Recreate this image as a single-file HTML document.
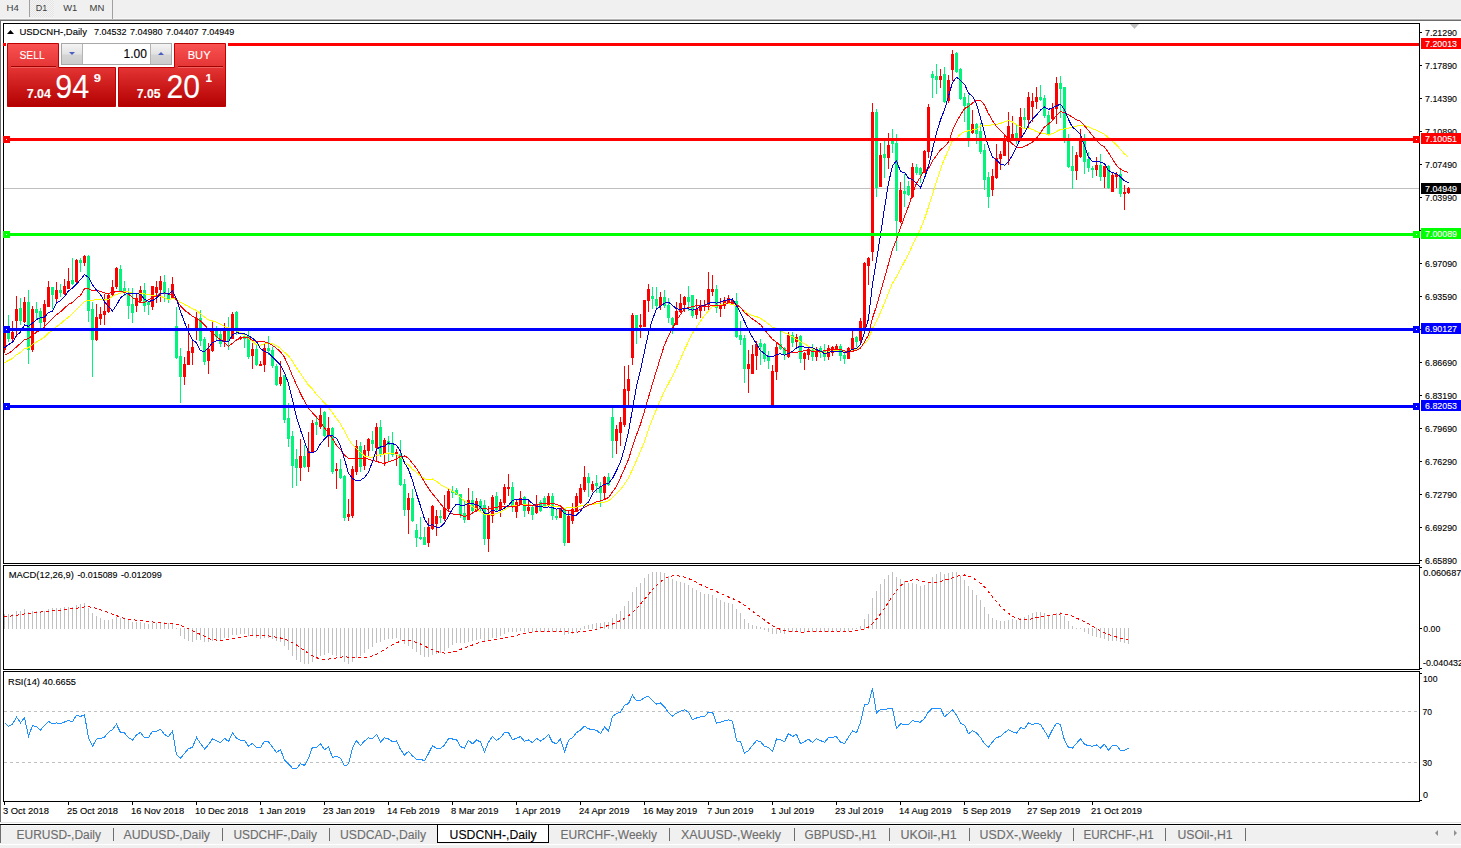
<!DOCTYPE html>
<html><head><meta charset="utf-8"><style>
html,body{margin:0;padding:0;background:#fff;width:1461px;height:848px;overflow:hidden}
svg{position:absolute;left:0;top:0;font-family:"Liberation Sans",sans-serif}
rect{shape-rendering:crispEdges}
text{stroke-width:0.12px}
</style></head><body>
<svg width="1461" height="848" viewBox="0 0 1461 848">
<rect x="0" y="0" width="1461" height="19" fill="#f0f0f0"/>
<rect x="0" y="18" width="1461" height="1" fill="#f7f7f7"/>
<rect x="0" y="19" width="1461" height="1" fill="#b4b4b4"/>
<rect x="0" y="20" width="1461" height="1" fill="#6e6e6e"/>
<defs><pattern id="chk" width="2" height="2" patternUnits="userSpaceOnUse"><rect width="2" height="2" fill="#f4f4f4"/><rect width="1" height="1" fill="#e4e4e4"/><rect x="1" y="1" width="1" height="1" fill="#e4e4e4"/></pattern></defs>
<rect x="30" y="0" width="24" height="17" fill="url(#chk)"/>
<rect x="29" y="0" width="1" height="17" fill="#a0a0a0"/>
<rect x="112" y="0" width="1" height="19" fill="#a0a0a0"/>
<text x="6.5" y="11" font-size="9.8" fill="#3c3c3c" textLength="12.3" lengthAdjust="spacingAndGlyphs">H4</text>
<text x="35.7" y="11" font-size="9.8" fill="#3c3c3c" textLength="11.5" lengthAdjust="spacingAndGlyphs">D1</text>
<text x="63.2" y="11" font-size="9.8" fill="#3c3c3c" textLength="14" lengthAdjust="spacingAndGlyphs">W1</text>
<text x="89.5" y="11" font-size="9.8" fill="#3c3c3c" textLength="14.8" lengthAdjust="spacingAndGlyphs">MN</text>
<rect x="0" y="21" width="1" height="801" fill="#6e6e6e"/>
<rect x="3" y="23" width="1417" height="1" fill="#000"/>
<rect x="3" y="563" width="1417" height="1" fill="#000"/>
<rect x="3" y="23" width="1" height="541" fill="#000"/>
<rect x="1419" y="23" width="1" height="541" fill="#000"/>
<rect x="3" y="565" width="1417" height="1" fill="#000"/>
<rect x="3" y="669" width="1417" height="1" fill="#000"/>
<rect x="3" y="565" width="1" height="105" fill="#000"/>
<rect x="1419" y="565" width="1" height="105" fill="#000"/>
<rect x="3" y="671" width="1417" height="1" fill="#000"/>
<rect x="3" y="801" width="1417" height="1" fill="#000"/>
<rect x="3" y="671" width="1" height="131" fill="#000"/>
<rect x="1419" y="671" width="1" height="131" fill="#000"/>
<rect x="1420" y="32" width="2" height="1" fill="#000"/>
<text x="1425" y="36" font-size="9.6" fill="#000" stroke="#000" textLength="32" lengthAdjust="spacingAndGlyphs">7.21290</text>
<rect x="1420" y="65" width="2" height="1" fill="#000"/>
<text x="1425" y="69" font-size="9.6" fill="#000" stroke="#000" textLength="32" lengthAdjust="spacingAndGlyphs">7.17890</text>
<rect x="1420" y="98" width="2" height="1" fill="#000"/>
<text x="1425" y="102" font-size="9.6" fill="#000" stroke="#000" textLength="32" lengthAdjust="spacingAndGlyphs">7.14390</text>
<rect x="1420" y="131" width="2" height="1" fill="#000"/>
<text x="1425" y="135" font-size="9.6" fill="#000" stroke="#000" textLength="32" lengthAdjust="spacingAndGlyphs">7.10890</text>
<rect x="1420" y="164" width="2" height="1" fill="#000"/>
<text x="1425" y="168" font-size="9.6" fill="#000" stroke="#000" textLength="32" lengthAdjust="spacingAndGlyphs">7.07490</text>
<rect x="1420" y="197" width="2" height="1" fill="#000"/>
<text x="1425" y="201" font-size="9.6" fill="#000" stroke="#000" textLength="32" lengthAdjust="spacingAndGlyphs">7.03990</text>
<rect x="1420" y="230" width="2" height="1" fill="#000"/>
<text x="1425" y="234" font-size="9.6" fill="#000" stroke="#000" textLength="32" lengthAdjust="spacingAndGlyphs">7.00490</text>
<rect x="1420" y="263" width="2" height="1" fill="#000"/>
<text x="1425" y="267" font-size="9.6" fill="#000" stroke="#000" textLength="32" lengthAdjust="spacingAndGlyphs">6.97090</text>
<rect x="1420" y="296" width="2" height="1" fill="#000"/>
<text x="1425" y="300" font-size="9.6" fill="#000" stroke="#000" textLength="32" lengthAdjust="spacingAndGlyphs">6.93590</text>
<rect x="1420" y="329" width="2" height="1" fill="#000"/>
<text x="1425" y="333" font-size="9.6" fill="#000" stroke="#000" textLength="32" lengthAdjust="spacingAndGlyphs">6.90090</text>
<rect x="1420" y="362" width="2" height="1" fill="#000"/>
<text x="1425" y="366" font-size="9.6" fill="#000" stroke="#000" textLength="32" lengthAdjust="spacingAndGlyphs">6.86690</text>
<rect x="1420" y="395" width="2" height="1" fill="#000"/>
<text x="1425" y="399" font-size="9.6" fill="#000" stroke="#000" textLength="32" lengthAdjust="spacingAndGlyphs">6.83190</text>
<rect x="1420" y="428" width="2" height="1" fill="#000"/>
<text x="1425" y="432" font-size="9.6" fill="#000" stroke="#000" textLength="32" lengthAdjust="spacingAndGlyphs">6.79690</text>
<rect x="1420" y="461" width="2" height="1" fill="#000"/>
<text x="1425" y="465" font-size="9.6" fill="#000" stroke="#000" textLength="32" lengthAdjust="spacingAndGlyphs">6.76290</text>
<rect x="1420" y="494" width="2" height="1" fill="#000"/>
<text x="1425" y="498" font-size="9.6" fill="#000" stroke="#000" textLength="32" lengthAdjust="spacingAndGlyphs">6.72790</text>
<rect x="1420" y="527" width="2" height="1" fill="#000"/>
<text x="1425" y="531" font-size="9.6" fill="#000" stroke="#000" textLength="32" lengthAdjust="spacingAndGlyphs">6.69290</text>
<rect x="1420" y="560" width="2" height="1" fill="#000"/>
<text x="1425" y="564" font-size="9.6" fill="#000" stroke="#000" textLength="32" lengthAdjust="spacingAndGlyphs">6.65890</text>
<clipPath id="cm"><rect x="4" y="24" width="1415" height="539"/></clipPath>
<clipPath id="cmacd"><rect x="4" y="566" width="1415" height="103"/></clipPath>
<clipPath id="crsi"><rect x="4" y="672" width="1415" height="129"/></clipPath>
<g clip-path="url(#cm)">
<rect x="4" y="188" width="1415" height="1" fill="#c0c0c0"/>
<rect x="4" y="328" width="1" height="25" fill="#ff0000"/>
<rect x="3" y="331" width="3" height="19" fill="#ff0000"/>
<rect x="8" y="315" width="1" height="27" fill="#00f57a"/>
<rect x="7" y="332" width="3" height="7" fill="#00f57a"/>
<rect x="12" y="321" width="1" height="22" fill="#ff0000"/>
<rect x="11" y="332" width="3" height="7" fill="#ff0000"/>
<rect x="16" y="296" width="1" height="41" fill="#ff0000"/>
<rect x="15" y="309" width="3" height="12" fill="#ff0000"/>
<rect x="20" y="298" width="1" height="27" fill="#00f57a"/>
<rect x="19" y="308" width="3" height="13" fill="#00f57a"/>
<rect x="24" y="297" width="1" height="26" fill="#ff0000"/>
<rect x="23" y="302" width="3" height="20" fill="#ff0000"/>
<rect x="28" y="290" width="1" height="74" fill="#00f57a"/>
<rect x="27" y="302" width="3" height="48" fill="#00f57a"/>
<rect x="32" y="306" width="1" height="46" fill="#ff0000"/>
<rect x="31" y="309" width="3" height="41" fill="#ff0000"/>
<rect x="36" y="302" width="1" height="18" fill="#00f57a"/>
<rect x="35" y="309" width="3" height="4" fill="#00f57a"/>
<rect x="40" y="308" width="1" height="20" fill="#00f57a"/>
<rect x="39" y="311" width="3" height="12" fill="#00f57a"/>
<rect x="44" y="300" width="1" height="28" fill="#ff0000"/>
<rect x="43" y="304" width="3" height="18" fill="#ff0000"/>
<rect x="48" y="281" width="1" height="26" fill="#ff0000"/>
<rect x="47" y="287" width="3" height="20" fill="#ff0000"/>
<rect x="52" y="287" width="1" height="22" fill="#00f57a"/>
<rect x="51" y="287" width="3" height="8" fill="#00f57a"/>
<rect x="56" y="282" width="1" height="20" fill="#ff0000"/>
<rect x="55" y="290" width="3" height="9" fill="#ff0000"/>
<rect x="60" y="284" width="1" height="13" fill="#00f57a"/>
<rect x="59" y="290" width="3" height="3" fill="#00f57a"/>
<rect x="64" y="279" width="1" height="16" fill="#ff0000"/>
<rect x="63" y="286" width="3" height="8" fill="#ff0000"/>
<rect x="68" y="268" width="1" height="21" fill="#ff0000"/>
<rect x="67" y="281" width="3" height="8" fill="#ff0000"/>
<rect x="72" y="258" width="1" height="27" fill="#00f57a"/>
<rect x="71" y="280" width="3" height="4" fill="#00f57a"/>
<rect x="76" y="259" width="1" height="25" fill="#ff0000"/>
<rect x="75" y="260" width="3" height="22" fill="#ff0000"/>
<rect x="80" y="258" width="1" height="14" fill="#00f57a"/>
<rect x="79" y="260" width="3" height="3" fill="#00f57a"/>
<rect x="84" y="255" width="1" height="11" fill="#ff0000"/>
<rect x="83" y="256" width="3" height="7" fill="#ff0000"/>
<rect x="88" y="255" width="1" height="67" fill="#00f57a"/>
<rect x="87" y="256" width="3" height="55" fill="#00f57a"/>
<rect x="92" y="302" width="1" height="75" fill="#00f57a"/>
<rect x="91" y="309" width="3" height="31" fill="#00f57a"/>
<rect x="96" y="304" width="1" height="37" fill="#ff0000"/>
<rect x="95" y="317" width="3" height="23" fill="#ff0000"/>
<rect x="100" y="307" width="1" height="18" fill="#ff0000"/>
<rect x="99" y="314" width="3" height="5" fill="#ff0000"/>
<rect x="104" y="294" width="1" height="31" fill="#ff0000"/>
<rect x="103" y="311" width="3" height="4" fill="#ff0000"/>
<rect x="108" y="294" width="1" height="19" fill="#ff0000"/>
<rect x="107" y="295" width="3" height="17" fill="#ff0000"/>
<rect x="112" y="280" width="1" height="17" fill="#ff0000"/>
<rect x="111" y="287" width="3" height="8" fill="#ff0000"/>
<rect x="116" y="267" width="1" height="22" fill="#ff0000"/>
<rect x="115" y="268" width="3" height="19" fill="#ff0000"/>
<rect x="120" y="265" width="1" height="27" fill="#00f57a"/>
<rect x="119" y="269" width="3" height="23" fill="#00f57a"/>
<rect x="124" y="281" width="1" height="15" fill="#00f57a"/>
<rect x="123" y="288" width="3" height="5" fill="#00f57a"/>
<rect x="128" y="288" width="1" height="31" fill="#00f57a"/>
<rect x="127" y="293" width="3" height="13" fill="#00f57a"/>
<rect x="132" y="288" width="1" height="35" fill="#00f57a"/>
<rect x="131" y="304" width="3" height="9" fill="#00f57a"/>
<rect x="136" y="294" width="1" height="18" fill="#ff0000"/>
<rect x="135" y="298" width="3" height="8" fill="#ff0000"/>
<rect x="140" y="286" width="1" height="17" fill="#ff0000"/>
<rect x="139" y="290" width="3" height="11" fill="#ff0000"/>
<rect x="144" y="283" width="1" height="29" fill="#00f57a"/>
<rect x="143" y="290" width="3" height="16" fill="#00f57a"/>
<rect x="148" y="301" width="1" height="14" fill="#00f57a"/>
<rect x="147" y="302" width="3" height="3" fill="#00f57a"/>
<rect x="152" y="286" width="1" height="24" fill="#ff0000"/>
<rect x="151" y="286" width="3" height="21" fill="#ff0000"/>
<rect x="156" y="281" width="1" height="22" fill="#ff0000"/>
<rect x="155" y="287" width="3" height="6" fill="#ff0000"/>
<rect x="160" y="276" width="1" height="26" fill="#ff0000"/>
<rect x="159" y="281" width="3" height="9" fill="#ff0000"/>
<rect x="164" y="275" width="1" height="27" fill="#00f57a"/>
<rect x="163" y="282" width="3" height="12" fill="#00f57a"/>
<rect x="168" y="288" width="1" height="15" fill="#00f57a"/>
<rect x="167" y="294" width="3" height="5" fill="#00f57a"/>
<rect x="172" y="277" width="1" height="22" fill="#ff0000"/>
<rect x="171" y="284" width="3" height="14" fill="#ff0000"/>
<rect x="176" y="307" width="1" height="52" fill="#00f57a"/>
<rect x="175" y="326" width="3" height="32" fill="#00f57a"/>
<rect x="180" y="348" width="1" height="55" fill="#00f57a"/>
<rect x="179" y="356" width="3" height="21" fill="#00f57a"/>
<rect x="184" y="357" width="1" height="28" fill="#ff0000"/>
<rect x="183" y="364" width="3" height="13" fill="#ff0000"/>
<rect x="188" y="324" width="1" height="41" fill="#ff0000"/>
<rect x="187" y="351" width="3" height="14" fill="#ff0000"/>
<rect x="192" y="340" width="1" height="25" fill="#ff0000"/>
<rect x="191" y="347" width="3" height="6" fill="#ff0000"/>
<rect x="196" y="312" width="1" height="28" fill="#ff0000"/>
<rect x="195" y="318" width="3" height="13" fill="#ff0000"/>
<rect x="200" y="310" width="1" height="36" fill="#00f57a"/>
<rect x="199" y="318" width="3" height="23" fill="#00f57a"/>
<rect x="204" y="337" width="1" height="28" fill="#00f57a"/>
<rect x="203" y="339" width="3" height="23" fill="#00f57a"/>
<rect x="208" y="343" width="1" height="31" fill="#ff0000"/>
<rect x="207" y="349" width="3" height="12" fill="#ff0000"/>
<rect x="212" y="321" width="1" height="31" fill="#ff0000"/>
<rect x="211" y="330" width="3" height="21" fill="#ff0000"/>
<rect x="216" y="326" width="1" height="14" fill="#00f57a"/>
<rect x="215" y="330" width="3" height="7" fill="#00f57a"/>
<rect x="220" y="331" width="1" height="16" fill="#00f57a"/>
<rect x="219" y="334" width="3" height="10" fill="#00f57a"/>
<rect x="224" y="323" width="1" height="24" fill="#ff0000"/>
<rect x="223" y="330" width="3" height="11" fill="#ff0000"/>
<rect x="228" y="317" width="1" height="33" fill="#00f57a"/>
<rect x="227" y="329" width="3" height="12" fill="#00f57a"/>
<rect x="232" y="312" width="1" height="27" fill="#ff0000"/>
<rect x="231" y="314" width="3" height="25" fill="#ff0000"/>
<rect x="236" y="311" width="1" height="24" fill="#00f57a"/>
<rect x="235" y="312" width="3" height="19" fill="#00f57a"/>
<rect x="240" y="336" width="1" height="4" fill="#ff0000"/>
<rect x="239" y="337" width="3" height="2" fill="#ff0000"/>
<rect x="244" y="333" width="1" height="15" fill="#00f57a"/>
<rect x="243" y="336" width="3" height="3" fill="#00f57a"/>
<rect x="248" y="331" width="1" height="28" fill="#00f57a"/>
<rect x="247" y="336" width="3" height="21" fill="#00f57a"/>
<rect x="252" y="343" width="1" height="26" fill="#ff0000"/>
<rect x="251" y="349" width="3" height="7" fill="#ff0000"/>
<rect x="256" y="344" width="1" height="22" fill="#00f57a"/>
<rect x="255" y="349" width="3" height="16" fill="#00f57a"/>
<rect x="260" y="361" width="1" height="5" fill="#ff0000"/>
<rect x="259" y="364" width="3" height="2" fill="#ff0000"/>
<rect x="264" y="344" width="1" height="28" fill="#ff0000"/>
<rect x="263" y="348" width="3" height="17" fill="#ff0000"/>
<rect x="268" y="336" width="1" height="19" fill="#00f57a"/>
<rect x="267" y="348" width="3" height="3" fill="#00f57a"/>
<rect x="272" y="347" width="1" height="21" fill="#00f57a"/>
<rect x="271" y="350" width="3" height="16" fill="#00f57a"/>
<rect x="276" y="364" width="1" height="22" fill="#00f57a"/>
<rect x="275" y="366" width="3" height="19" fill="#00f57a"/>
<rect x="280" y="361" width="1" height="25" fill="#ff0000"/>
<rect x="279" y="377" width="3" height="7" fill="#ff0000"/>
<rect x="284" y="375" width="1" height="48" fill="#00f57a"/>
<rect x="283" y="375" width="3" height="45" fill="#00f57a"/>
<rect x="288" y="403" width="1" height="44" fill="#00f57a"/>
<rect x="287" y="418" width="3" height="21" fill="#00f57a"/>
<rect x="292" y="431" width="1" height="57" fill="#00f57a"/>
<rect x="291" y="436" width="3" height="30" fill="#00f57a"/>
<rect x="296" y="449" width="1" height="37" fill="#00f57a"/>
<rect x="295" y="459" width="3" height="9" fill="#00f57a"/>
<rect x="300" y="439" width="1" height="42" fill="#ff0000"/>
<rect x="299" y="456" width="3" height="12" fill="#ff0000"/>
<rect x="304" y="445" width="1" height="23" fill="#00f57a"/>
<rect x="303" y="456" width="3" height="11" fill="#00f57a"/>
<rect x="308" y="432" width="1" height="40" fill="#ff0000"/>
<rect x="307" y="451" width="3" height="16" fill="#ff0000"/>
<rect x="312" y="420" width="1" height="32" fill="#ff0000"/>
<rect x="311" y="423" width="3" height="29" fill="#ff0000"/>
<rect x="316" y="418" width="1" height="17" fill="#00f57a"/>
<rect x="315" y="422" width="3" height="3" fill="#00f57a"/>
<rect x="320" y="408" width="1" height="21" fill="#ff0000"/>
<rect x="319" y="415" width="3" height="12" fill="#ff0000"/>
<rect x="324" y="411" width="1" height="26" fill="#00f57a"/>
<rect x="323" y="412" width="3" height="24" fill="#00f57a"/>
<rect x="328" y="417" width="1" height="30" fill="#ff0000"/>
<rect x="327" y="428" width="3" height="7" fill="#ff0000"/>
<rect x="332" y="427" width="1" height="47" fill="#00f57a"/>
<rect x="331" y="428" width="3" height="44" fill="#00f57a"/>
<rect x="336" y="463" width="1" height="26" fill="#ff0000"/>
<rect x="335" y="469" width="3" height="2" fill="#ff0000"/>
<rect x="340" y="459" width="1" height="20" fill="#00f57a"/>
<rect x="339" y="469" width="3" height="9" fill="#00f57a"/>
<rect x="344" y="475" width="1" height="46" fill="#00f57a"/>
<rect x="343" y="476" width="3" height="42" fill="#00f57a"/>
<rect x="348" y="499" width="1" height="22" fill="#ff0000"/>
<rect x="347" y="514" width="3" height="3" fill="#ff0000"/>
<rect x="352" y="466" width="1" height="52" fill="#ff0000"/>
<rect x="351" y="469" width="3" height="47" fill="#ff0000"/>
<rect x="356" y="440" width="1" height="35" fill="#ff0000"/>
<rect x="355" y="446" width="3" height="26" fill="#ff0000"/>
<rect x="360" y="442" width="1" height="30" fill="#00f57a"/>
<rect x="359" y="446" width="3" height="21" fill="#00f57a"/>
<rect x="364" y="445" width="1" height="25" fill="#ff0000"/>
<rect x="363" y="450" width="3" height="16" fill="#ff0000"/>
<rect x="368" y="438" width="1" height="19" fill="#ff0000"/>
<rect x="367" y="439" width="3" height="12" fill="#ff0000"/>
<rect x="372" y="431" width="1" height="20" fill="#00f57a"/>
<rect x="371" y="440" width="3" height="4" fill="#00f57a"/>
<rect x="376" y="423" width="1" height="38" fill="#ff0000"/>
<rect x="375" y="427" width="3" height="21" fill="#ff0000"/>
<rect x="380" y="420" width="1" height="37" fill="#00f57a"/>
<rect x="379" y="427" width="3" height="28" fill="#00f57a"/>
<rect x="384" y="438" width="1" height="28" fill="#ff0000"/>
<rect x="383" y="440" width="3" height="14" fill="#ff0000"/>
<rect x="388" y="436" width="1" height="25" fill="#00f57a"/>
<rect x="387" y="441" width="3" height="4" fill="#00f57a"/>
<rect x="392" y="432" width="1" height="25" fill="#00f57a"/>
<rect x="391" y="444" width="3" height="11" fill="#00f57a"/>
<rect x="396" y="449" width="1" height="17" fill="#ff0000"/>
<rect x="395" y="452" width="3" height="2" fill="#ff0000"/>
<rect x="400" y="440" width="1" height="46" fill="#00f57a"/>
<rect x="399" y="454" width="3" height="31" fill="#00f57a"/>
<rect x="404" y="479" width="1" height="37" fill="#00f57a"/>
<rect x="403" y="484" width="3" height="26" fill="#00f57a"/>
<rect x="408" y="493" width="1" height="41" fill="#ff0000"/>
<rect x="407" y="498" width="3" height="12" fill="#ff0000"/>
<rect x="412" y="489" width="1" height="33" fill="#00f57a"/>
<rect x="411" y="498" width="3" height="23" fill="#00f57a"/>
<rect x="416" y="524" width="1" height="23" fill="#00f57a"/>
<rect x="415" y="530" width="3" height="8" fill="#00f57a"/>
<rect x="420" y="517" width="1" height="23" fill="#00f57a"/>
<rect x="419" y="537" width="3" height="2" fill="#00f57a"/>
<rect x="424" y="527" width="1" height="18" fill="#00f57a"/>
<rect x="423" y="537" width="3" height="8" fill="#00f57a"/>
<rect x="428" y="518" width="1" height="29" fill="#ff0000"/>
<rect x="427" y="527" width="3" height="16" fill="#ff0000"/>
<rect x="432" y="505" width="1" height="25" fill="#ff0000"/>
<rect x="431" y="506" width="3" height="23" fill="#ff0000"/>
<rect x="436" y="510" width="1" height="26" fill="#ff0000"/>
<rect x="435" y="516" width="3" height="8" fill="#ff0000"/>
<rect x="440" y="510" width="1" height="13" fill="#00f57a"/>
<rect x="439" y="516" width="3" height="2" fill="#00f57a"/>
<rect x="444" y="495" width="1" height="26" fill="#ff0000"/>
<rect x="443" y="508" width="3" height="11" fill="#ff0000"/>
<rect x="448" y="489" width="1" height="22" fill="#ff0000"/>
<rect x="447" y="491" width="3" height="18" fill="#ff0000"/>
<rect x="452" y="486" width="1" height="12" fill="#00f57a"/>
<rect x="451" y="491" width="3" height="2" fill="#00f57a"/>
<rect x="456" y="488" width="1" height="7" fill="#00f57a"/>
<rect x="455" y="490" width="3" height="5" fill="#00f57a"/>
<rect x="460" y="494" width="1" height="24" fill="#00f57a"/>
<rect x="459" y="494" width="3" height="21" fill="#00f57a"/>
<rect x="464" y="501" width="1" height="22" fill="#00f57a"/>
<rect x="463" y="513" width="3" height="7" fill="#00f57a"/>
<rect x="468" y="488" width="1" height="32" fill="#ff0000"/>
<rect x="467" y="500" width="3" height="20" fill="#ff0000"/>
<rect x="472" y="491" width="1" height="21" fill="#00f57a"/>
<rect x="471" y="500" width="3" height="11" fill="#00f57a"/>
<rect x="476" y="498" width="1" height="14" fill="#ff0000"/>
<rect x="475" y="501" width="3" height="10" fill="#ff0000"/>
<rect x="480" y="499" width="1" height="12" fill="#00f57a"/>
<rect x="479" y="501" width="3" height="7" fill="#00f57a"/>
<rect x="484" y="500" width="1" height="45" fill="#00f57a"/>
<rect x="483" y="505" width="3" height="34" fill="#00f57a"/>
<rect x="488" y="506" width="1" height="46" fill="#ff0000"/>
<rect x="487" y="514" width="3" height="25" fill="#ff0000"/>
<rect x="492" y="495" width="1" height="28" fill="#ff0000"/>
<rect x="491" y="497" width="3" height="19" fill="#ff0000"/>
<rect x="496" y="492" width="1" height="19" fill="#00f57a"/>
<rect x="495" y="496" width="3" height="14" fill="#00f57a"/>
<rect x="500" y="499" width="1" height="18" fill="#ff0000"/>
<rect x="499" y="502" width="3" height="8" fill="#ff0000"/>
<rect x="504" y="484" width="1" height="21" fill="#ff0000"/>
<rect x="503" y="487" width="3" height="16" fill="#ff0000"/>
<rect x="508" y="474" width="1" height="22" fill="#ff0000"/>
<rect x="507" y="487" width="3" height="2" fill="#ff0000"/>
<rect x="512" y="482" width="1" height="30" fill="#00f57a"/>
<rect x="511" y="487" width="3" height="20" fill="#00f57a"/>
<rect x="516" y="500" width="1" height="18" fill="#ff0000"/>
<rect x="515" y="502" width="3" height="10" fill="#ff0000"/>
<rect x="520" y="491" width="1" height="14" fill="#ff0000"/>
<rect x="519" y="498" width="3" height="7" fill="#ff0000"/>
<rect x="524" y="496" width="1" height="21" fill="#00f57a"/>
<rect x="523" y="497" width="3" height="14" fill="#00f57a"/>
<rect x="528" y="499" width="1" height="15" fill="#ff0000"/>
<rect x="527" y="507" width="3" height="4" fill="#ff0000"/>
<rect x="532" y="506" width="1" height="14" fill="#00f57a"/>
<rect x="531" y="507" width="3" height="8" fill="#00f57a"/>
<rect x="536" y="495" width="1" height="19" fill="#ff0000"/>
<rect x="535" y="504" width="3" height="9" fill="#ff0000"/>
<rect x="540" y="500" width="1" height="12" fill="#00f57a"/>
<rect x="539" y="502" width="3" height="9" fill="#00f57a"/>
<rect x="544" y="496" width="1" height="12" fill="#00f57a"/>
<rect x="543" y="498" width="3" height="8" fill="#00f57a"/>
<rect x="548" y="493" width="1" height="14" fill="#ff0000"/>
<rect x="547" y="496" width="3" height="10" fill="#ff0000"/>
<rect x="552" y="493" width="1" height="27" fill="#00f57a"/>
<rect x="551" y="496" width="3" height="20" fill="#00f57a"/>
<rect x="556" y="509" width="1" height="11" fill="#00f57a"/>
<rect x="555" y="516" width="3" height="2" fill="#00f57a"/>
<rect x="560" y="508" width="1" height="10" fill="#ff0000"/>
<rect x="559" y="508" width="3" height="10" fill="#ff0000"/>
<rect x="564" y="508" width="1" height="38" fill="#00f57a"/>
<rect x="563" y="509" width="3" height="34" fill="#00f57a"/>
<rect x="568" y="511" width="1" height="32" fill="#ff0000"/>
<rect x="567" y="516" width="3" height="27" fill="#ff0000"/>
<rect x="572" y="503" width="1" height="21" fill="#ff0000"/>
<rect x="571" y="509" width="3" height="12" fill="#ff0000"/>
<rect x="576" y="493" width="1" height="19" fill="#ff0000"/>
<rect x="575" y="496" width="3" height="16" fill="#ff0000"/>
<rect x="580" y="484" width="1" height="20" fill="#ff0000"/>
<rect x="579" y="488" width="3" height="15" fill="#ff0000"/>
<rect x="584" y="466" width="1" height="26" fill="#ff0000"/>
<rect x="583" y="477" width="3" height="13" fill="#ff0000"/>
<rect x="588" y="473" width="1" height="24" fill="#00f57a"/>
<rect x="587" y="477" width="3" height="6" fill="#00f57a"/>
<rect x="592" y="481" width="1" height="11" fill="#ff0000"/>
<rect x="591" y="484" width="3" height="6" fill="#ff0000"/>
<rect x="596" y="475" width="1" height="18" fill="#00f57a"/>
<rect x="595" y="483" width="3" height="3" fill="#00f57a"/>
<rect x="600" y="482" width="1" height="25" fill="#00f57a"/>
<rect x="599" y="486" width="3" height="7" fill="#00f57a"/>
<rect x="604" y="476" width="1" height="23" fill="#ff0000"/>
<rect x="603" y="477" width="3" height="16" fill="#ff0000"/>
<rect x="608" y="473" width="1" height="13" fill="#00f57a"/>
<rect x="607" y="477" width="3" height="8" fill="#00f57a"/>
<rect x="612" y="408" width="1" height="50" fill="#00f57a"/>
<rect x="611" y="417" width="3" height="24" fill="#00f57a"/>
<rect x="616" y="425" width="1" height="29" fill="#ff0000"/>
<rect x="615" y="429" width="3" height="12" fill="#ff0000"/>
<rect x="620" y="417" width="1" height="29" fill="#ff0000"/>
<rect x="619" y="422" width="3" height="11" fill="#ff0000"/>
<rect x="624" y="366" width="1" height="61" fill="#ff0000"/>
<rect x="623" y="389" width="3" height="36" fill="#ff0000"/>
<rect x="628" y="365" width="1" height="41" fill="#ff0000"/>
<rect x="627" y="379" width="3" height="12" fill="#ff0000"/>
<rect x="632" y="313" width="1" height="52" fill="#ff0000"/>
<rect x="631" y="315" width="3" height="43" fill="#ff0000"/>
<rect x="636" y="315" width="1" height="29" fill="#00f57a"/>
<rect x="635" y="315" width="3" height="13" fill="#00f57a"/>
<rect x="640" y="314" width="1" height="24" fill="#ff0000"/>
<rect x="639" y="325" width="3" height="2" fill="#ff0000"/>
<rect x="644" y="300" width="1" height="27" fill="#ff0000"/>
<rect x="643" y="300" width="3" height="27" fill="#ff0000"/>
<rect x="648" y="284" width="1" height="28" fill="#ff0000"/>
<rect x="647" y="289" width="3" height="12" fill="#ff0000"/>
<rect x="652" y="287" width="1" height="22" fill="#00f57a"/>
<rect x="651" y="296" width="3" height="3" fill="#00f57a"/>
<rect x="656" y="287" width="1" height="22" fill="#00f57a"/>
<rect x="655" y="299" width="3" height="7" fill="#00f57a"/>
<rect x="660" y="292" width="1" height="18" fill="#ff0000"/>
<rect x="659" y="297" width="3" height="9" fill="#ff0000"/>
<rect x="664" y="290" width="1" height="18" fill="#00f57a"/>
<rect x="663" y="297" width="3" height="9" fill="#00f57a"/>
<rect x="668" y="298" width="1" height="25" fill="#00f57a"/>
<rect x="667" y="305" width="3" height="13" fill="#00f57a"/>
<rect x="672" y="317" width="1" height="17" fill="#00f57a"/>
<rect x="671" y="318" width="3" height="7" fill="#00f57a"/>
<rect x="676" y="302" width="1" height="23" fill="#ff0000"/>
<rect x="675" y="311" width="3" height="14" fill="#ff0000"/>
<rect x="680" y="294" width="1" height="19" fill="#ff0000"/>
<rect x="679" y="303" width="3" height="9" fill="#ff0000"/>
<rect x="684" y="296" width="1" height="16" fill="#ff0000"/>
<rect x="683" y="297" width="3" height="8" fill="#ff0000"/>
<rect x="688" y="286" width="1" height="25" fill="#00f57a"/>
<rect x="687" y="297" width="3" height="5" fill="#00f57a"/>
<rect x="692" y="295" width="1" height="23" fill="#00f57a"/>
<rect x="691" y="295" width="3" height="21" fill="#00f57a"/>
<rect x="696" y="299" width="1" height="20" fill="#ff0000"/>
<rect x="695" y="309" width="3" height="6" fill="#ff0000"/>
<rect x="700" y="300" width="1" height="18" fill="#ff0000"/>
<rect x="699" y="305" width="3" height="6" fill="#ff0000"/>
<rect x="704" y="300" width="1" height="11" fill="#ff0000"/>
<rect x="703" y="305" width="3" height="1" fill="#ff0000"/>
<rect x="708" y="272" width="1" height="39" fill="#ff0000"/>
<rect x="707" y="289" width="3" height="16" fill="#ff0000"/>
<rect x="712" y="275" width="1" height="21" fill="#ff0000"/>
<rect x="711" y="289" width="3" height="3" fill="#ff0000"/>
<rect x="716" y="285" width="1" height="28" fill="#00f57a"/>
<rect x="715" y="289" width="3" height="19" fill="#00f57a"/>
<rect x="720" y="298" width="1" height="19" fill="#ff0000"/>
<rect x="719" y="305" width="3" height="4" fill="#ff0000"/>
<rect x="724" y="297" width="1" height="12" fill="#ff0000"/>
<rect x="723" y="301" width="3" height="5" fill="#ff0000"/>
<rect x="728" y="295" width="1" height="9" fill="#ff0000"/>
<rect x="727" y="298" width="3" height="5" fill="#ff0000"/>
<rect x="732" y="298" width="1" height="7" fill="#ff0000"/>
<rect x="731" y="300" width="3" height="4" fill="#ff0000"/>
<rect x="736" y="293" width="1" height="45" fill="#00f57a"/>
<rect x="735" y="301" width="3" height="36" fill="#00f57a"/>
<rect x="740" y="321" width="1" height="24" fill="#00f57a"/>
<rect x="739" y="335" width="3" height="5" fill="#00f57a"/>
<rect x="744" y="335" width="1" height="48" fill="#00f57a"/>
<rect x="743" y="338" width="3" height="31" fill="#00f57a"/>
<rect x="748" y="350" width="1" height="43" fill="#ff0000"/>
<rect x="747" y="364" width="3" height="5" fill="#ff0000"/>
<rect x="752" y="345" width="1" height="29" fill="#ff0000"/>
<rect x="751" y="354" width="3" height="20" fill="#ff0000"/>
<rect x="756" y="341" width="1" height="29" fill="#ff0000"/>
<rect x="755" y="344" width="3" height="12" fill="#ff0000"/>
<rect x="760" y="339" width="1" height="26" fill="#00f57a"/>
<rect x="759" y="343" width="3" height="4" fill="#00f57a"/>
<rect x="764" y="343" width="1" height="19" fill="#00f57a"/>
<rect x="763" y="344" width="3" height="15" fill="#00f57a"/>
<rect x="768" y="351" width="1" height="18" fill="#00f57a"/>
<rect x="767" y="357" width="3" height="4" fill="#00f57a"/>
<rect x="772" y="365" width="1" height="41" fill="#ff0000"/>
<rect x="771" y="371" width="3" height="35" fill="#ff0000"/>
<rect x="776" y="343" width="1" height="37" fill="#ff0000"/>
<rect x="775" y="347" width="3" height="25" fill="#ff0000"/>
<rect x="780" y="331" width="1" height="19" fill="#00f57a"/>
<rect x="779" y="344" width="3" height="5" fill="#00f57a"/>
<rect x="784" y="347" width="1" height="13" fill="#00f57a"/>
<rect x="783" y="348" width="3" height="6" fill="#00f57a"/>
<rect x="788" y="332" width="1" height="26" fill="#ff0000"/>
<rect x="787" y="335" width="3" height="22" fill="#ff0000"/>
<rect x="792" y="332" width="1" height="15" fill="#00f57a"/>
<rect x="791" y="335" width="3" height="8" fill="#00f57a"/>
<rect x="796" y="334" width="1" height="14" fill="#ff0000"/>
<rect x="795" y="337" width="3" height="5" fill="#ff0000"/>
<rect x="800" y="335" width="1" height="28" fill="#00f57a"/>
<rect x="799" y="336" width="3" height="23" fill="#00f57a"/>
<rect x="804" y="352" width="1" height="18" fill="#ff0000"/>
<rect x="803" y="353" width="3" height="6" fill="#ff0000"/>
<rect x="808" y="346" width="1" height="14" fill="#ff0000"/>
<rect x="807" y="349" width="3" height="6" fill="#ff0000"/>
<rect x="812" y="344" width="1" height="17" fill="#00f57a"/>
<rect x="811" y="350" width="3" height="7" fill="#00f57a"/>
<rect x="816" y="347" width="1" height="14" fill="#ff0000"/>
<rect x="815" y="349" width="3" height="8" fill="#ff0000"/>
<rect x="820" y="346" width="1" height="12" fill="#00f57a"/>
<rect x="819" y="348" width="3" height="5" fill="#00f57a"/>
<rect x="824" y="344" width="1" height="17" fill="#00f57a"/>
<rect x="823" y="351" width="3" height="6" fill="#00f57a"/>
<rect x="828" y="345" width="1" height="15" fill="#ff0000"/>
<rect x="827" y="348" width="3" height="9" fill="#ff0000"/>
<rect x="832" y="346" width="1" height="10" fill="#ff0000"/>
<rect x="831" y="347" width="3" height="6" fill="#ff0000"/>
<rect x="836" y="344" width="1" height="8" fill="#ff0000"/>
<rect x="835" y="346" width="3" height="4" fill="#ff0000"/>
<rect x="840" y="344" width="1" height="17" fill="#00f57a"/>
<rect x="839" y="346" width="3" height="10" fill="#00f57a"/>
<rect x="844" y="351" width="1" height="13" fill="#00f57a"/>
<rect x="843" y="355" width="3" height="4" fill="#00f57a"/>
<rect x="848" y="347" width="1" height="12" fill="#ff0000"/>
<rect x="847" y="348" width="3" height="11" fill="#ff0000"/>
<rect x="852" y="331" width="1" height="21" fill="#ff0000"/>
<rect x="851" y="338" width="3" height="13" fill="#ff0000"/>
<rect x="856" y="336" width="1" height="11" fill="#00f57a"/>
<rect x="855" y="337" width="3" height="5" fill="#00f57a"/>
<rect x="860" y="318" width="1" height="25" fill="#ff0000"/>
<rect x="859" y="321" width="3" height="20" fill="#ff0000"/>
<rect x="864" y="262" width="1" height="67" fill="#ff0000"/>
<rect x="863" y="263" width="3" height="65" fill="#ff0000"/>
<rect x="868" y="257" width="1" height="28" fill="#ff0000"/>
<rect x="867" y="258" width="3" height="8" fill="#ff0000"/>
<rect x="872" y="103" width="1" height="158" fill="#ff0000"/>
<rect x="871" y="112" width="3" height="140" fill="#ff0000"/>
<rect x="876" y="109" width="1" height="88" fill="#00f57a"/>
<rect x="875" y="112" width="3" height="76" fill="#00f57a"/>
<rect x="880" y="143" width="1" height="44" fill="#ff0000"/>
<rect x="879" y="155" width="3" height="32" fill="#ff0000"/>
<rect x="884" y="141" width="1" height="37" fill="#00f57a"/>
<rect x="883" y="154" width="3" height="4" fill="#00f57a"/>
<rect x="888" y="133" width="1" height="36" fill="#ff0000"/>
<rect x="887" y="145" width="3" height="13" fill="#ff0000"/>
<rect x="892" y="129" width="1" height="24" fill="#00f57a"/>
<rect x="891" y="141" width="3" height="3" fill="#00f57a"/>
<rect x="896" y="134" width="1" height="117" fill="#00f57a"/>
<rect x="895" y="143" width="3" height="78" fill="#00f57a"/>
<rect x="900" y="182" width="1" height="41" fill="#ff0000"/>
<rect x="899" y="190" width="3" height="32" fill="#ff0000"/>
<rect x="904" y="174" width="1" height="33" fill="#00f57a"/>
<rect x="903" y="191" width="3" height="3" fill="#00f57a"/>
<rect x="908" y="181" width="1" height="15" fill="#00f57a"/>
<rect x="907" y="186" width="3" height="9" fill="#00f57a"/>
<rect x="912" y="163" width="1" height="35" fill="#ff0000"/>
<rect x="911" y="167" width="3" height="30" fill="#ff0000"/>
<rect x="916" y="164" width="1" height="11" fill="#00f57a"/>
<rect x="915" y="167" width="3" height="6" fill="#00f57a"/>
<rect x="920" y="167" width="1" height="16" fill="#00f57a"/>
<rect x="919" y="168" width="3" height="7" fill="#00f57a"/>
<rect x="924" y="150" width="1" height="23" fill="#ff0000"/>
<rect x="923" y="151" width="3" height="22" fill="#ff0000"/>
<rect x="928" y="104" width="1" height="54" fill="#ff0000"/>
<rect x="927" y="107" width="3" height="45" fill="#ff0000"/>
<rect x="932" y="71" width="1" height="27" fill="#00f57a"/>
<rect x="931" y="74" width="3" height="4" fill="#00f57a"/>
<rect x="936" y="64" width="1" height="30" fill="#00f57a"/>
<rect x="935" y="76" width="3" height="4" fill="#00f57a"/>
<rect x="940" y="69" width="1" height="19" fill="#ff0000"/>
<rect x="939" y="76" width="3" height="4" fill="#ff0000"/>
<rect x="944" y="67" width="1" height="36" fill="#00f57a"/>
<rect x="943" y="74" width="3" height="28" fill="#00f57a"/>
<rect x="948" y="75" width="1" height="28" fill="#ff0000"/>
<rect x="947" y="80" width="3" height="21" fill="#ff0000"/>
<rect x="952" y="50" width="1" height="31" fill="#ff0000"/>
<rect x="951" y="54" width="3" height="16" fill="#ff0000"/>
<rect x="956" y="52" width="1" height="21" fill="#00f57a"/>
<rect x="955" y="53" width="3" height="19" fill="#00f57a"/>
<rect x="960" y="68" width="1" height="32" fill="#00f57a"/>
<rect x="959" y="69" width="3" height="30" fill="#00f57a"/>
<rect x="964" y="93" width="1" height="29" fill="#00f57a"/>
<rect x="963" y="97" width="3" height="9" fill="#00f57a"/>
<rect x="968" y="95" width="1" height="52" fill="#00f57a"/>
<rect x="967" y="103" width="3" height="36" fill="#00f57a"/>
<rect x="972" y="110" width="1" height="24" fill="#ff0000"/>
<rect x="971" y="124" width="3" height="9" fill="#ff0000"/>
<rect x="976" y="123" width="1" height="21" fill="#00f57a"/>
<rect x="975" y="124" width="3" height="10" fill="#00f57a"/>
<rect x="980" y="123" width="1" height="31" fill="#00f57a"/>
<rect x="979" y="131" width="3" height="21" fill="#00f57a"/>
<rect x="984" y="144" width="1" height="46" fill="#00f57a"/>
<rect x="983" y="150" width="3" height="30" fill="#00f57a"/>
<rect x="988" y="172" width="1" height="36" fill="#00f57a"/>
<rect x="987" y="177" width="3" height="20" fill="#00f57a"/>
<rect x="992" y="169" width="1" height="27" fill="#ff0000"/>
<rect x="991" y="176" width="3" height="14" fill="#ff0000"/>
<rect x="996" y="144" width="1" height="35" fill="#ff0000"/>
<rect x="995" y="158" width="3" height="20" fill="#ff0000"/>
<rect x="1000" y="151" width="1" height="19" fill="#ff0000"/>
<rect x="999" y="154" width="3" height="5" fill="#ff0000"/>
<rect x="1004" y="135" width="1" height="21" fill="#ff0000"/>
<rect x="1003" y="139" width="3" height="17" fill="#ff0000"/>
<rect x="1008" y="112" width="1" height="53" fill="#ff0000"/>
<rect x="1007" y="126" width="3" height="16" fill="#ff0000"/>
<rect x="1012" y="116" width="1" height="25" fill="#ff0000"/>
<rect x="1011" y="134" width="3" height="6" fill="#ff0000"/>
<rect x="1016" y="124" width="1" height="20" fill="#00f57a"/>
<rect x="1015" y="133" width="3" height="6" fill="#00f57a"/>
<rect x="1020" y="108" width="1" height="31" fill="#ff0000"/>
<rect x="1019" y="117" width="3" height="22" fill="#ff0000"/>
<rect x="1024" y="108" width="1" height="20" fill="#00f57a"/>
<rect x="1023" y="117" width="3" height="3" fill="#00f57a"/>
<rect x="1028" y="92" width="1" height="36" fill="#ff0000"/>
<rect x="1027" y="97" width="3" height="23" fill="#ff0000"/>
<rect x="1032" y="93" width="1" height="29" fill="#ff0000"/>
<rect x="1031" y="101" width="3" height="6" fill="#ff0000"/>
<rect x="1036" y="87" width="1" height="22" fill="#ff0000"/>
<rect x="1035" y="97" width="3" height="5" fill="#ff0000"/>
<rect x="1040" y="85" width="1" height="16" fill="#00f57a"/>
<rect x="1039" y="97" width="3" height="3" fill="#00f57a"/>
<rect x="1044" y="95" width="1" height="23" fill="#00f57a"/>
<rect x="1043" y="98" width="3" height="18" fill="#00f57a"/>
<rect x="1048" y="111" width="1" height="25" fill="#00f57a"/>
<rect x="1047" y="115" width="3" height="20" fill="#00f57a"/>
<rect x="1052" y="103" width="1" height="18" fill="#ff0000"/>
<rect x="1051" y="108" width="3" height="11" fill="#ff0000"/>
<rect x="1056" y="77" width="1" height="47" fill="#ff0000"/>
<rect x="1055" y="83" width="3" height="26" fill="#ff0000"/>
<rect x="1060" y="76" width="1" height="42" fill="#00f57a"/>
<rect x="1059" y="83" width="3" height="6" fill="#00f57a"/>
<rect x="1064" y="87" width="1" height="56" fill="#00f57a"/>
<rect x="1063" y="87" width="3" height="52" fill="#00f57a"/>
<rect x="1068" y="134" width="1" height="34" fill="#00f57a"/>
<rect x="1067" y="138" width="3" height="29" fill="#00f57a"/>
<rect x="1072" y="146" width="1" height="43" fill="#00f57a"/>
<rect x="1071" y="166" width="3" height="5" fill="#00f57a"/>
<rect x="1076" y="152" width="1" height="28" fill="#ff0000"/>
<rect x="1075" y="155" width="3" height="16" fill="#ff0000"/>
<rect x="1080" y="129" width="1" height="29" fill="#ff0000"/>
<rect x="1079" y="139" width="3" height="18" fill="#ff0000"/>
<rect x="1084" y="134" width="1" height="40" fill="#00f57a"/>
<rect x="1083" y="139" width="3" height="23" fill="#00f57a"/>
<rect x="1088" y="152" width="1" height="20" fill="#00f57a"/>
<rect x="1087" y="159" width="3" height="9" fill="#00f57a"/>
<rect x="1092" y="166" width="1" height="12" fill="#00f57a"/>
<rect x="1091" y="168" width="3" height="2" fill="#00f57a"/>
<rect x="1096" y="157" width="1" height="19" fill="#ff0000"/>
<rect x="1095" y="165" width="3" height="5" fill="#ff0000"/>
<rect x="1100" y="154" width="1" height="27" fill="#00f57a"/>
<rect x="1099" y="165" width="3" height="12" fill="#00f57a"/>
<rect x="1104" y="166" width="1" height="22" fill="#ff0000"/>
<rect x="1103" y="166" width="3" height="11" fill="#ff0000"/>
<rect x="1108" y="165" width="1" height="24" fill="#00f57a"/>
<rect x="1107" y="166" width="3" height="22" fill="#00f57a"/>
<rect x="1112" y="173" width="1" height="19" fill="#ff0000"/>
<rect x="1111" y="175" width="3" height="17" fill="#ff0000"/>
<rect x="1116" y="172" width="1" height="16" fill="#ff0000"/>
<rect x="1115" y="174" width="3" height="3" fill="#ff0000"/>
<rect x="1120" y="170" width="1" height="27" fill="#00f57a"/>
<rect x="1119" y="174" width="3" height="20" fill="#00f57a"/>
<rect x="1124" y="185" width="1" height="25" fill="#ff0000"/>
<rect x="1123" y="192" width="3" height="2" fill="#ff0000"/>
<rect x="1128" y="187" width="1" height="7" fill="#ff0000"/>
<rect x="1127" y="188" width="3" height="5" fill="#ff0000"/>
<polyline fill="none" stroke="#ffff00" stroke-width="1" shape-rendering="crispEdges" points="4.5,362.9 8.5,360.5 12.5,358.5 16.5,354.8 20.5,352.4 24.5,348.6 28.5,347.8 32.5,344.5 36.5,342.1 40.5,339.7 44.5,337.0 48.5,333.1 52.5,330.2 56.5,326.7 60.5,323.8 64.5,320.3 68.5,317.1 72.5,313.6 76.5,309.6 80.5,305.3 84.5,301.4 88.5,300.3 92.5,300.4 96.5,299.6 100.5,299.9 104.5,299.5 108.5,299.2 112.5,296.2 116.5,294.3 120.5,293.3 124.5,291.8 128.5,291.9 132.5,293.1 136.5,293.3 140.5,293.3 144.5,293.9 148.5,294.8 152.5,295.1 156.5,295.3 160.5,296.3 164.5,297.7 168.5,299.7 172.5,298.5 176.5,299.4 180.5,302.2 184.5,304.5 188.5,306.4 192.5,308.9 196.5,310.4 200.5,313.8 204.5,317.1 208.5,319.8 212.5,321.0 216.5,322.2 220.5,324.3 224.5,326.2 228.5,327.9 232.5,328.4 236.5,330.4 240.5,332.8 244.5,335.5 248.5,338.5 252.5,341.0 256.5,344.8 260.5,345.1 264.5,343.8 268.5,343.1 272.5,343.8 276.5,345.6 280.5,348.4 284.5,352.2 288.5,355.8 292.5,361.3 296.5,367.8 300.5,373.6 304.5,379.4 308.5,385.2 312.5,389.1 316.5,394.4 320.5,398.4 324.5,403.1 328.5,407.3 332.5,412.8 336.5,418.5 340.5,423.9 344.5,431.2 348.5,439.1 352.5,444.8 356.5,448.6 360.5,452.5 364.5,456.0 368.5,457.0 372.5,457.2 376.5,455.4 380.5,454.8 384.5,454.0 388.5,453.0 392.5,453.2 396.5,454.5 400.5,457.3 404.5,461.8 408.5,464.9 412.5,469.3 416.5,472.4 420.5,475.7 424.5,478.9 428.5,479.4 432.5,479.0 436.5,481.2 440.5,484.6 444.5,486.6 448.5,488.6 452.5,491.1 456.5,493.5 460.5,497.7 464.5,500.7 468.5,503.6 472.5,506.8 476.5,509.0 480.5,511.6 484.5,514.2 488.5,514.4 492.5,514.4 496.5,513.8 500.5,512.1 504.5,509.7 508.5,507.0 512.5,506.0 516.5,505.8 520.5,504.9 524.5,504.6 528.5,504.5 532.5,505.5 536.5,506.1 540.5,506.9 544.5,506.5 548.5,505.4 552.5,506.1 556.5,506.4 560.5,506.7 564.5,508.4 568.5,507.3 572.5,507.1 576.5,507.1 580.5,506.0 584.5,504.8 588.5,504.6 592.5,504.5 596.5,503.5 600.5,503.0 604.5,502.1 608.5,500.8 612.5,497.7 616.5,493.6 620.5,489.7 624.5,484.0 628.5,478.0 632.5,469.4 636.5,460.4 640.5,451.3 644.5,441.4 648.5,429.3 652.5,419.0 656.5,409.3 660.5,399.8 664.5,391.1 668.5,383.5 672.5,375.9 676.5,367.7 680.5,359.0 684.5,349.7 688.5,341.3 692.5,333.3 696.5,327.0 700.5,321.1 704.5,315.5 708.5,310.8 712.5,306.4 716.5,306.1 720.5,305.0 724.5,303.8 728.5,303.8 732.5,304.3 736.5,306.1 740.5,307.7 744.5,311.1 748.5,313.9 752.5,315.7 756.5,316.6 760.5,318.3 764.5,320.9 768.5,323.9 772.5,327.2 776.5,328.7 780.5,330.6 784.5,332.9 788.5,334.3 792.5,336.9 796.5,339.2 800.5,341.6 804.5,343.9 808.5,346.2 812.5,348.9 816.5,351.2 820.5,352.0 824.5,352.8 828.5,351.8 832.5,351.1 836.5,350.7 840.5,351.3 844.5,351.8 848.5,351.4 852.5,350.3 856.5,348.9 860.5,347.7 864.5,343.7 868.5,339.2 872.5,328.5 876.5,321.2 880.5,312.5 884.5,303.0 888.5,293.0 892.5,283.2 896.5,276.8 900.5,269.2 904.5,261.6 908.5,254.0 912.5,245.3 916.5,237.0 920.5,228.8 924.5,219.1 928.5,207.1 932.5,194.2 936.5,181.8 940.5,169.2 944.5,158.7 948.5,150.0 952.5,140.3 956.5,138.4 960.5,134.1 964.5,131.7 968.5,130.8 972.5,129.8 976.5,129.3 980.5,126.0 984.5,125.5 988.5,125.6 992.5,124.7 996.5,124.3 1000.5,123.4 1004.5,121.8 1008.5,120.6 1012.5,121.9 1016.5,124.8 1020.5,126.6 1024.5,128.6 1028.5,128.4 1032.5,129.4 1036.5,131.5 1040.5,132.8 1044.5,133.6 1048.5,135.0 1052.5,133.6 1056.5,131.6 1060.5,129.5 1064.5,128.9 1068.5,128.3 1072.5,127.0 1076.5,126.1 1080.5,125.2 1084.5,125.5 1088.5,126.8 1092.5,128.8 1096.5,130.3 1100.5,132.1 1104.5,134.4 1108.5,137.7 1112.5,141.4 1116.5,144.9 1120.5,149.5 1124.5,153.9 1128.5,157.3"/>
<polyline fill="none" stroke="#ff0000" stroke-width="1" shape-rendering="crispEdges" points="4.5,355.2 8.5,353.4 12.5,350.5 16.5,346.9 20.5,343.4 24.5,339.6 28.5,338.5 32.5,335.5 36.5,332.0 40.5,330.2 44.5,326.4 48.5,322.4 52.5,318.2 56.5,314.7 60.5,311.8 64.5,308.1 68.5,304.4 72.5,302.6 76.5,298.3 80.5,295.5 84.5,288.8 88.5,288.9 92.5,290.9 96.5,290.5 100.5,291.2 104.5,293.0 108.5,293.1 112.5,292.8 116.5,291.2 120.5,291.5 124.5,292.3 128.5,293.9 132.5,297.6 136.5,300.1 140.5,302.6 144.5,302.2 148.5,299.7 152.5,297.6 156.5,295.7 160.5,293.5 164.5,293.3 168.5,294.1 172.5,295.2 176.5,300.0 180.5,306.0 184.5,310.2 188.5,313.0 192.5,316.4 196.5,318.4 200.5,320.9 204.5,325.0 208.5,329.4 212.5,332.5 216.5,336.4 220.5,340.0 224.5,342.3 228.5,346.3 232.5,343.2 236.5,340.0 240.5,338.1 244.5,337.2 248.5,337.8 252.5,340.1 256.5,341.8 260.5,342.0 264.5,341.9 268.5,343.3 272.5,345.4 276.5,348.3 280.5,351.7 284.5,357.3 288.5,366.1 292.5,375.8 296.5,385.0 300.5,393.5 304.5,401.3 308.5,408.6 312.5,412.8 316.5,417.1 320.5,421.9 324.5,428.0 328.5,432.5 332.5,438.7 336.5,445.3 340.5,449.4 344.5,455.0 348.5,458.6 352.5,458.7 356.5,458.0 360.5,458.0 364.5,458.0 368.5,459.1 372.5,460.4 376.5,461.3 380.5,462.7 384.5,463.5 388.5,461.6 392.5,460.5 396.5,458.8 400.5,456.4 404.5,456.0 408.5,458.1 412.5,463.4 416.5,468.5 420.5,474.8 424.5,482.3 428.5,488.3 432.5,493.9 436.5,498.4 440.5,503.9 444.5,508.4 448.5,511.1 452.5,513.9 456.5,514.7 460.5,515.0 464.5,516.5 468.5,515.1 472.5,513.1 476.5,510.5 480.5,507.9 484.5,508.7 488.5,509.2 492.5,507.8 496.5,507.2 500.5,506.8 504.5,506.5 508.5,506.1 512.5,507.0 516.5,506.1 520.5,504.6 524.5,505.3 528.5,505.0 532.5,505.9 536.5,505.7 540.5,503.7 544.5,503.1 548.5,503.1 552.5,503.4 556.5,504.5 560.5,506.0 564.5,509.9 568.5,510.6 572.5,511.1 576.5,511.0 580.5,509.5 584.5,507.3 588.5,505.1 592.5,503.7 596.5,501.9 600.5,501.0 604.5,499.6 608.5,497.4 612.5,492.0 616.5,486.3 620.5,477.7 624.5,468.7 628.5,459.4 632.5,446.5 636.5,435.0 640.5,424.2 644.5,411.2 648.5,397.2 652.5,383.8 656.5,370.5 660.5,357.6 664.5,344.8 668.5,336.0 672.5,328.6 676.5,320.6 680.5,314.5 684.5,308.6 688.5,307.6 692.5,306.7 696.5,305.5 700.5,305.8 704.5,307.0 708.5,306.3 712.5,305.2 716.5,305.9 720.5,305.9 724.5,304.7 728.5,302.9 732.5,302.1 736.5,304.5 740.5,307.5 744.5,312.3 748.5,315.8 752.5,319.0 756.5,321.8 760.5,324.7 764.5,329.7 768.5,334.7 772.5,339.3 776.5,342.3 780.5,345.6 784.5,349.5 788.5,352.1 792.5,352.5 796.5,352.4 800.5,351.6 804.5,350.8 808.5,350.5 812.5,351.4 816.5,351.6 820.5,351.2 824.5,350.9 828.5,349.3 832.5,349.3 836.5,349.2 840.5,349.4 844.5,351.0 848.5,351.4 852.5,351.5 856.5,350.3 860.5,348.0 864.5,341.9 868.5,334.9 872.5,318.0 876.5,306.2 880.5,291.9 884.5,278.2 888.5,263.8 892.5,249.3 896.5,239.6 900.5,227.7 904.5,216.6 908.5,206.3 912.5,193.9 916.5,183.2 920.5,176.9 924.5,169.2 928.5,168.9 932.5,161.0 936.5,155.5 940.5,149.7 944.5,146.6 948.5,142.1 952.5,130.2 956.5,121.7 960.5,114.9 964.5,108.6 968.5,106.5 972.5,103.0 976.5,100.1 980.5,100.1 984.5,105.2 988.5,113.7 992.5,120.6 996.5,126.5 1000.5,130.3 1004.5,134.5 1008.5,139.7 1012.5,144.1 1016.5,146.9 1020.5,147.8 1024.5,146.4 1028.5,144.5 1032.5,142.2 1036.5,138.4 1040.5,132.7 1044.5,126.9 1048.5,124.0 1052.5,120.4 1056.5,115.3 1060.5,111.6 1064.5,112.5 1068.5,114.8 1072.5,117.1 1076.5,119.8 1080.5,121.3 1084.5,125.8 1088.5,130.5 1092.5,135.7 1096.5,140.4 1100.5,144.7 1104.5,147.0 1108.5,152.6 1112.5,159.1 1116.5,165.3 1120.5,169.2 1124.5,171.1 1128.5,172.4"/>
<polyline fill="none" stroke="#0000cd" stroke-width="1" shape-rendering="crispEdges" points="4.5,347.8 8.5,344.5 12.5,342.4 16.5,335.5 20.5,332.2 24.5,324.9 28.5,326.4 32.5,323.2 36.5,319.4 40.5,317.9 44.5,317.2 48.5,312.5 52.5,311.4 56.5,303.0 60.5,300.5 64.5,296.8 68.5,290.9 72.5,288.0 76.5,284.1 80.5,279.6 84.5,274.7 88.5,277.3 92.5,284.9 96.5,290.0 100.5,294.5 104.5,301.9 108.5,306.5 112.5,310.9 116.5,305.0 120.5,298.1 124.5,294.5 128.5,293.2 132.5,293.3 136.5,293.8 140.5,294.2 144.5,299.4 148.5,301.4 152.5,300.6 156.5,298.1 160.5,293.7 164.5,292.9 168.5,294.1 172.5,291.1 176.5,298.6 180.5,311.4 184.5,322.3 188.5,332.2 192.5,340.0 196.5,342.8 200.5,350.8 204.5,351.3 208.5,347.5 212.5,342.7 216.5,340.6 220.5,340.1 224.5,341.8 228.5,341.9 232.5,335.1 236.5,332.5 240.5,333.5 244.5,333.7 248.5,335.6 252.5,338.3 256.5,341.6 260.5,348.8 264.5,351.3 268.5,353.2 272.5,357.0 276.5,361.0 280.5,365.0 284.5,372.9 288.5,383.5 292.5,400.2 296.5,416.9 300.5,429.9 304.5,441.7 308.5,452.2 312.5,452.8 316.5,450.8 320.5,443.7 324.5,439.1 328.5,435.1 332.5,435.8 336.5,438.4 340.5,446.1 344.5,459.2 348.5,473.4 352.5,478.3 356.5,480.9 360.5,480.2 364.5,477.5 368.5,472.1 372.5,461.5 376.5,449.1 380.5,447.0 384.5,446.2 388.5,443.0 392.5,443.6 396.5,445.4 400.5,451.3 404.5,462.9 408.5,469.2 412.5,480.7 416.5,494.0 420.5,506.0 424.5,519.1 428.5,525.3 432.5,524.9 436.5,527.5 440.5,527.0 444.5,522.9 448.5,516.2 452.5,508.8 456.5,504.1 460.5,505.2 464.5,505.5 468.5,503.1 472.5,503.4 476.5,504.8 480.5,506.9 484.5,513.2 488.5,513.2 492.5,510.1 496.5,511.4 500.5,510.1 504.5,508.1 508.5,505.3 512.5,500.7 516.5,499.1 520.5,499.1 524.5,499.2 528.5,499.9 532.5,503.7 536.5,506.1 540.5,506.7 544.5,507.2 548.5,507.0 552.5,507.6 556.5,509.1 560.5,508.3 564.5,513.8 568.5,514.5 572.5,515.1 576.5,515.1 580.5,511.3 584.5,505.6 588.5,501.9 592.5,493.6 596.5,489.3 600.5,486.9 604.5,484.2 608.5,483.6 612.5,478.4 616.5,470.7 620.5,461.8 624.5,448.1 628.5,432.0 632.5,408.9 636.5,386.4 640.5,370.0 644.5,351.6 648.5,332.6 652.5,319.6 656.5,309.0 660.5,306.4 664.5,303.2 668.5,302.1 672.5,305.5 676.5,308.7 680.5,309.4 684.5,308.2 688.5,308.7 692.5,310.1 696.5,308.9 700.5,306.2 704.5,305.3 708.5,303.3 712.5,302.2 716.5,303.1 720.5,301.7 724.5,300.5 728.5,299.6 732.5,298.9 736.5,305.6 740.5,312.8 744.5,321.5 748.5,329.9 752.5,337.5 756.5,344.0 760.5,350.5 764.5,353.7 768.5,356.7 772.5,357.0 776.5,354.6 780.5,353.8 784.5,355.1 788.5,353.6 792.5,351.3 796.5,348.0 800.5,346.1 804.5,347.1 808.5,347.2 812.5,347.6 816.5,349.6 820.5,351.1 824.5,353.7 828.5,352.4 832.5,351.5 836.5,351.1 840.5,351.1 844.5,352.4 848.5,351.8 852.5,349.3 856.5,348.3 860.5,344.6 864.5,332.7 868.5,318.8 872.5,283.6 876.5,260.6 880.5,234.5 884.5,208.2 888.5,183.0 892.5,165.9 896.5,160.5 900.5,171.7 904.5,172.5 908.5,178.1 912.5,179.5 916.5,183.4 920.5,187.8 924.5,178.0 928.5,166.1 932.5,149.5 936.5,133.0 940.5,119.9 944.5,109.8 948.5,96.3 952.5,82.4 956.5,77.3 960.5,80.4 964.5,84.2 968.5,93.1 972.5,96.3 976.5,103.9 980.5,117.7 984.5,133.1 988.5,147.0 992.5,157.1 996.5,159.9 1000.5,164.3 1004.5,165.2 1008.5,161.7 1012.5,155.2 1016.5,146.9 1020.5,138.5 1024.5,132.9 1028.5,124.7 1032.5,119.2 1036.5,115.1 1040.5,110.1 1044.5,106.9 1048.5,109.4 1052.5,107.9 1056.5,106.0 1060.5,104.1 1064.5,109.9 1068.5,119.5 1072.5,127.3 1076.5,130.2 1080.5,134.7 1084.5,145.7 1088.5,157.0 1092.5,161.4 1096.5,161.3 1100.5,162.1 1104.5,163.7 1108.5,170.5 1112.5,172.6 1116.5,173.6 1120.5,177.0 1124.5,180.9 1128.5,182.6"/>
</g>
<rect x="4" y="43" width="1415" height="3" fill="#ff0000"/>
<rect x="3" y="43" width="1" height="3" fill="#ff0000"/>
<rect x="1421" y="38" width="40" height="11" fill="#ff0000"/>
<text x="1425" y="47" font-size="9.6" fill="#fff" stroke="#fff" textLength="32" lengthAdjust="spacingAndGlyphs">7.20013</text>
<rect x="4" y="138" width="1415" height="3" fill="#ff0000"/>
<rect x="3" y="136" width="7" height="7" fill="#ff0000"/>
<rect x="6" y="139" width="1" height="1" fill="#fff"/>
<rect x="1413" y="136" width="7" height="7" fill="#ff0000"/>
<rect x="1416" y="139" width="1" height="1" fill="#fff"/>
<rect x="1421" y="133" width="40" height="11" fill="#ff0000"/>
<text x="1425" y="142" font-size="9.6" fill="#fff" stroke="#fff" textLength="32" lengthAdjust="spacingAndGlyphs">7.10051</text>
<rect x="4" y="233" width="1415" height="3" fill="#00ff00"/>
<rect x="3" y="231" width="7" height="7" fill="#00ff00"/>
<rect x="6" y="234" width="1" height="1" fill="#fff"/>
<rect x="1413" y="231" width="7" height="7" fill="#00ff00"/>
<rect x="1416" y="234" width="1" height="1" fill="#fff"/>
<rect x="1421" y="228" width="40" height="11" fill="#00ff00"/>
<text x="1425" y="237" font-size="9.6" fill="#fff" stroke="#fff" textLength="32" lengthAdjust="spacingAndGlyphs">7.00089</text>
<rect x="4" y="328" width="1415" height="3" fill="#0000ff"/>
<rect x="3" y="326" width="7" height="7" fill="#0000ff"/>
<rect x="6" y="329" width="1" height="1" fill="#fff"/>
<rect x="1413" y="326" width="7" height="7" fill="#0000ff"/>
<rect x="1416" y="329" width="1" height="1" fill="#fff"/>
<rect x="1421" y="323" width="40" height="11" fill="#0000ff"/>
<text x="1425" y="332" font-size="9.6" fill="#fff" stroke="#fff" textLength="32" lengthAdjust="spacingAndGlyphs">6.90127</text>
<rect x="4" y="405" width="1415" height="3" fill="#0000ff"/>
<rect x="3" y="403" width="7" height="7" fill="#0000ff"/>
<rect x="6" y="406" width="1" height="1" fill="#fff"/>
<rect x="1413" y="403" width="7" height="7" fill="#0000ff"/>
<rect x="1416" y="406" width="1" height="1" fill="#fff"/>
<rect x="1421" y="400" width="40" height="11" fill="#0000ff"/>
<text x="1425" y="409" font-size="9.6" fill="#fff" stroke="#fff" textLength="32" lengthAdjust="spacingAndGlyphs">6.82053</text>
<rect x="1421" y="183" width="40" height="11" fill="#000"/>
<text x="1425" y="192" font-size="9.6" fill="#fff" stroke="#fff" textLength="32" lengthAdjust="spacingAndGlyphs">7.04949</text>
<polygon points="1130,24 1139,24 1134.5,29" fill="#c0c0c0"/>
<defs><linearGradient id="rg" x1="0" y1="0" x2="0" y2="1"><stop offset="0" stop-color="#fa5252"/><stop offset="0.38" stop-color="#e43434"/><stop offset="1" stop-color="#b30000"/></linearGradient><linearGradient id="bg" x1="0" y1="0" x2="0" y2="1"><stop offset="0" stop-color="#f4f4f4"/><stop offset="0.5" stop-color="#e2e2e2"/><stop offset="0.55" stop-color="#d4d4d4"/><stop offset="1" stop-color="#cccccc"/></linearGradient></defs>
<rect x="6" y="40" width="222" height="68" fill="#fff"/>
<path d="M7,43 H58 V67 H115 V106 H7 Z" fill="url(#rg)" stroke="#c00000" stroke-width="1" transform="translate(0.5,0.5)" />
<path d="M118,67 H174 V43 H225 V106 H118 Z" fill="url(#rg)" stroke="#c00000" stroke-width="1" transform="translate(0.5,0.5)" />
<rect x="11" y="66" width="45" height="1" fill="#a00000"/>
<rect x="11" y="67" width="45" height="1" fill="#f06060"/>
<rect x="178" y="66" width="45" height="1" fill="#a00000"/>
<rect x="178" y="67" width="45" height="1" fill="#f06060"/>
<rect x="61" y="43" width="111" height="22" fill="#a8a8a8"/>
<rect x="62" y="44" width="109" height="20" fill="#fff"/>
<rect x="62" y="44" width="20" height="20" fill="url(#bg)"/>
<rect x="82" y="44" width="1" height="20" fill="#b4b4b4"/>
<rect x="151" y="44" width="20" height="20" fill="url(#bg)"/>
<rect x="150" y="44" width="1" height="20" fill="#b4b4b4"/>
<polygon points="69,52 75,52 72,55" fill="#4a5fc0"/>
<polygon points="158,55 164,55 161,52" fill="#4a5fc0"/>
<text x="123.6" y="58" font-size="12.3" fill="#000" stroke="#000" textLength="23.4" lengthAdjust="spacingAndGlyphs">1.00</text>
<text x="19.5" y="59" font-size="11.7" fill="#fff" stroke="#fff" textLength="25.1" lengthAdjust="spacingAndGlyphs">SELL</text>
<text x="187.7" y="59" font-size="11.7" fill="#fff" stroke="#fff" textLength="22.9" lengthAdjust="spacingAndGlyphs">BUY</text>
<text x="26.7" y="98" font-size="12.3" fill="#fff" stroke="#fff" textLength="24.3" lengthAdjust="spacingAndGlyphs" font-weight="bold">7.04</text>
<text x="55.2" y="98" font-size="33" fill="#fff" stroke="#fff" textLength="34" lengthAdjust="spacingAndGlyphs">94</text>
<text x="93.8" y="82.3" font-size="11.7" fill="#fff" stroke="#fff" textLength="7.2" lengthAdjust="spacingAndGlyphs" font-weight="bold">9</text>
<text x="136.8" y="98" font-size="12.3" fill="#fff" stroke="#fff" textLength="23.7" lengthAdjust="spacingAndGlyphs" font-weight="bold">7.05</text>
<text x="166.5" y="98" font-size="33" fill="#fff" stroke="#fff" textLength="33.5" lengthAdjust="spacingAndGlyphs">20</text>
<text x="205.5" y="82.3" font-size="11.7" fill="#fff" stroke="#fff" textLength="6.5" lengthAdjust="spacingAndGlyphs" font-weight="bold">1</text>
<polygon points="7,34 14,34 10.5,30" fill="#000"/>
<text x="19.4" y="35" font-size="9.9" fill="#000" stroke="#000" textLength="67.6" lengthAdjust="spacingAndGlyphs">USDCNH-,Daily</text>
<text x="94" y="35" font-size="9.9" fill="#000" stroke="#000" textLength="32.6" lengthAdjust="spacingAndGlyphs">7.04532</text>
<text x="130" y="35" font-size="9.9" fill="#000" stroke="#000" textLength="32.6" lengthAdjust="spacingAndGlyphs">7.04980</text>
<text x="166" y="35" font-size="9.9" fill="#000" stroke="#000" textLength="32.6" lengthAdjust="spacingAndGlyphs">7.04407</text>
<text x="201.7" y="35" font-size="9.9" fill="#000" stroke="#000" textLength="32.6" lengthAdjust="spacingAndGlyphs">7.04949</text>
<rect x="1420" y="567" width="2" height="1" fill="#000"/>
<rect x="1420" y="668" width="2" height="1" fill="#000"/>
<rect x="1420" y="628" width="2" height="1" fill="#000"/>
<text x="1423.3" y="576" font-size="9.6" fill="#000" stroke="#000" textLength="38" lengthAdjust="spacingAndGlyphs">0.060687</text>
<text x="1423.3" y="632" font-size="9.6" fill="#000" stroke="#000" textLength="17" lengthAdjust="spacingAndGlyphs">0.00</text>
<text x="1423" y="666" font-size="9.6" fill="#000" stroke="#000" textLength="40" lengthAdjust="spacingAndGlyphs">-0.040432</text>
<text x="8.7" y="578" font-size="9.5" fill="#000" stroke="#000" textLength="65.2" lengthAdjust="spacingAndGlyphs">MACD(12,26,9)</text>
<text x="77.4" y="578" font-size="9.5" fill="#000" stroke="#000" textLength="40.1" lengthAdjust="spacingAndGlyphs">-0.015089</text>
<text x="121" y="578" font-size="9.5" fill="#000" stroke="#000" textLength="40.7" lengthAdjust="spacingAndGlyphs">-0.012099</text>
<g clip-path="url(#cmacd)">
<rect x="4" y="614" width="1" height="15" fill="#c0c0c0"/>
<rect x="8" y="614" width="1" height="15" fill="#c0c0c0"/>
<rect x="12" y="614" width="1" height="15" fill="#c0c0c0"/>
<rect x="16" y="611" width="1" height="18" fill="#c0c0c0"/>
<rect x="20" y="611" width="1" height="18" fill="#c0c0c0"/>
<rect x="24" y="609" width="1" height="20" fill="#c0c0c0"/>
<rect x="28" y="612" width="1" height="17" fill="#c0c0c0"/>
<rect x="32" y="611" width="1" height="18" fill="#c0c0c0"/>
<rect x="36" y="611" width="1" height="18" fill="#c0c0c0"/>
<rect x="40" y="611" width="1" height="18" fill="#c0c0c0"/>
<rect x="44" y="611" width="1" height="18" fill="#c0c0c0"/>
<rect x="48" y="609" width="1" height="20" fill="#c0c0c0"/>
<rect x="52" y="608" width="1" height="21" fill="#c0c0c0"/>
<rect x="56" y="608" width="1" height="21" fill="#c0c0c0"/>
<rect x="60" y="608" width="1" height="21" fill="#c0c0c0"/>
<rect x="64" y="607" width="1" height="22" fill="#c0c0c0"/>
<rect x="68" y="607" width="1" height="22" fill="#c0c0c0"/>
<rect x="72" y="607" width="1" height="22" fill="#c0c0c0"/>
<rect x="76" y="605" width="1" height="24" fill="#c0c0c0"/>
<rect x="80" y="604" width="1" height="25" fill="#c0c0c0"/>
<rect x="84" y="603" width="1" height="26" fill="#c0c0c0"/>
<rect x="88" y="608" width="1" height="21" fill="#c0c0c0"/>
<rect x="92" y="613" width="1" height="16" fill="#c0c0c0"/>
<rect x="96" y="616" width="1" height="13" fill="#c0c0c0"/>
<rect x="100" y="618" width="1" height="11" fill="#c0c0c0"/>
<rect x="104" y="620" width="1" height="9" fill="#c0c0c0"/>
<rect x="108" y="620" width="1" height="9" fill="#c0c0c0"/>
<rect x="112" y="619" width="1" height="10" fill="#c0c0c0"/>
<rect x="116" y="617" width="1" height="12" fill="#c0c0c0"/>
<rect x="120" y="618" width="1" height="11" fill="#c0c0c0"/>
<rect x="124" y="618" width="1" height="11" fill="#c0c0c0"/>
<rect x="128" y="620" width="1" height="9" fill="#c0c0c0"/>
<rect x="132" y="622" width="1" height="7" fill="#c0c0c0"/>
<rect x="136" y="622" width="1" height="7" fill="#c0c0c0"/>
<rect x="140" y="622" width="1" height="7" fill="#c0c0c0"/>
<rect x="144" y="623" width="1" height="6" fill="#c0c0c0"/>
<rect x="148" y="624" width="1" height="5" fill="#c0c0c0"/>
<rect x="152" y="623" width="1" height="6" fill="#c0c0c0"/>
<rect x="156" y="623" width="1" height="6" fill="#c0c0c0"/>
<rect x="160" y="622" width="1" height="7" fill="#c0c0c0"/>
<rect x="164" y="622" width="1" height="7" fill="#c0c0c0"/>
<rect x="168" y="623" width="1" height="6" fill="#c0c0c0"/>
<rect x="172" y="623" width="1" height="6" fill="#c0c0c0"/>
<rect x="176" y="628" width="1" height="1" fill="#c0c0c0"/>
<rect x="180" y="628" width="1" height="8" fill="#c0c0c0"/>
<rect x="184" y="628" width="1" height="11" fill="#c0c0c0"/>
<rect x="188" y="628" width="1" height="13" fill="#c0c0c0"/>
<rect x="192" y="628" width="1" height="14" fill="#c0c0c0"/>
<rect x="196" y="628" width="1" height="12" fill="#c0c0c0"/>
<rect x="200" y="628" width="1" height="12" fill="#c0c0c0"/>
<rect x="204" y="628" width="1" height="14" fill="#c0c0c0"/>
<rect x="208" y="628" width="1" height="14" fill="#c0c0c0"/>
<rect x="212" y="628" width="1" height="13" fill="#c0c0c0"/>
<rect x="216" y="628" width="1" height="12" fill="#c0c0c0"/>
<rect x="220" y="628" width="1" height="12" fill="#c0c0c0"/>
<rect x="224" y="628" width="1" height="10" fill="#c0c0c0"/>
<rect x="228" y="628" width="1" height="10" fill="#c0c0c0"/>
<rect x="232" y="628" width="1" height="7" fill="#c0c0c0"/>
<rect x="236" y="628" width="1" height="7" fill="#c0c0c0"/>
<rect x="240" y="628" width="1" height="6" fill="#c0c0c0"/>
<rect x="244" y="628" width="1" height="6" fill="#c0c0c0"/>
<rect x="248" y="628" width="1" height="8" fill="#c0c0c0"/>
<rect x="252" y="628" width="1" height="8" fill="#c0c0c0"/>
<rect x="256" y="628" width="1" height="10" fill="#c0c0c0"/>
<rect x="260" y="628" width="1" height="11" fill="#c0c0c0"/>
<rect x="264" y="628" width="1" height="10" fill="#c0c0c0"/>
<rect x="268" y="628" width="1" height="10" fill="#c0c0c0"/>
<rect x="272" y="628" width="1" height="11" fill="#c0c0c0"/>
<rect x="276" y="628" width="1" height="13" fill="#c0c0c0"/>
<rect x="280" y="628" width="1" height="14" fill="#c0c0c0"/>
<rect x="284" y="628" width="1" height="18" fill="#c0c0c0"/>
<rect x="288" y="628" width="1" height="22" fill="#c0c0c0"/>
<rect x="292" y="628" width="1" height="28" fill="#c0c0c0"/>
<rect x="296" y="628" width="1" height="32" fill="#c0c0c0"/>
<rect x="300" y="628" width="1" height="34" fill="#c0c0c0"/>
<rect x="304" y="628" width="1" height="36" fill="#c0c0c0"/>
<rect x="308" y="628" width="1" height="36" fill="#c0c0c0"/>
<rect x="312" y="628" width="1" height="34" fill="#c0c0c0"/>
<rect x="316" y="628" width="1" height="31" fill="#c0c0c0"/>
<rect x="320" y="628" width="1" height="28" fill="#c0c0c0"/>
<rect x="324" y="628" width="1" height="27" fill="#c0c0c0"/>
<rect x="328" y="628" width="1" height="25" fill="#c0c0c0"/>
<rect x="332" y="628" width="1" height="27" fill="#c0c0c0"/>
<rect x="336" y="628" width="1" height="28" fill="#c0c0c0"/>
<rect x="340" y="628" width="1" height="30" fill="#c0c0c0"/>
<rect x="344" y="628" width="1" height="34" fill="#c0c0c0"/>
<rect x="348" y="628" width="1" height="36" fill="#c0c0c0"/>
<rect x="352" y="628" width="1" height="34" fill="#c0c0c0"/>
<rect x="356" y="628" width="1" height="30" fill="#c0c0c0"/>
<rect x="360" y="628" width="1" height="28" fill="#c0c0c0"/>
<rect x="364" y="628" width="1" height="25" fill="#c0c0c0"/>
<rect x="368" y="628" width="1" height="21" fill="#c0c0c0"/>
<rect x="372" y="628" width="1" height="19" fill="#c0c0c0"/>
<rect x="376" y="628" width="1" height="15" fill="#c0c0c0"/>
<rect x="380" y="628" width="1" height="14" fill="#c0c0c0"/>
<rect x="384" y="628" width="1" height="12" fill="#c0c0c0"/>
<rect x="388" y="628" width="1" height="11" fill="#c0c0c0"/>
<rect x="392" y="628" width="1" height="11" fill="#c0c0c0"/>
<rect x="396" y="628" width="1" height="10" fill="#c0c0c0"/>
<rect x="400" y="628" width="1" height="12" fill="#c0c0c0"/>
<rect x="404" y="628" width="1" height="16" fill="#c0c0c0"/>
<rect x="408" y="628" width="1" height="18" fill="#c0c0c0"/>
<rect x="412" y="628" width="1" height="21" fill="#c0c0c0"/>
<rect x="416" y="628" width="1" height="24" fill="#c0c0c0"/>
<rect x="420" y="628" width="1" height="27" fill="#c0c0c0"/>
<rect x="424" y="628" width="1" height="29" fill="#c0c0c0"/>
<rect x="428" y="628" width="1" height="29" fill="#c0c0c0"/>
<rect x="432" y="628" width="1" height="27" fill="#c0c0c0"/>
<rect x="436" y="628" width="1" height="26" fill="#c0c0c0"/>
<rect x="440" y="628" width="1" height="25" fill="#c0c0c0"/>
<rect x="444" y="628" width="1" height="23" fill="#c0c0c0"/>
<rect x="448" y="628" width="1" height="20" fill="#c0c0c0"/>
<rect x="452" y="628" width="1" height="17" fill="#c0c0c0"/>
<rect x="456" y="628" width="1" height="15" fill="#c0c0c0"/>
<rect x="460" y="628" width="1" height="15" fill="#c0c0c0"/>
<rect x="464" y="628" width="1" height="15" fill="#c0c0c0"/>
<rect x="468" y="628" width="1" height="14" fill="#c0c0c0"/>
<rect x="472" y="628" width="1" height="13" fill="#c0c0c0"/>
<rect x="476" y="628" width="1" height="12" fill="#c0c0c0"/>
<rect x="480" y="628" width="1" height="11" fill="#c0c0c0"/>
<rect x="484" y="628" width="1" height="13" fill="#c0c0c0"/>
<rect x="488" y="628" width="1" height="12" fill="#c0c0c0"/>
<rect x="492" y="628" width="1" height="10" fill="#c0c0c0"/>
<rect x="496" y="628" width="1" height="10" fill="#c0c0c0"/>
<rect x="500" y="628" width="1" height="8" fill="#c0c0c0"/>
<rect x="504" y="628" width="1" height="6" fill="#c0c0c0"/>
<rect x="508" y="628" width="1" height="4" fill="#c0c0c0"/>
<rect x="512" y="628" width="1" height="4" fill="#c0c0c0"/>
<rect x="516" y="628" width="1" height="4" fill="#c0c0c0"/>
<rect x="520" y="628" width="1" height="3" fill="#c0c0c0"/>
<rect x="524" y="628" width="1" height="4" fill="#c0c0c0"/>
<rect x="528" y="628" width="1" height="4" fill="#c0c0c0"/>
<rect x="532" y="628" width="1" height="4" fill="#c0c0c0"/>
<rect x="536" y="628" width="1" height="4" fill="#c0c0c0"/>
<rect x="540" y="628" width="1" height="4" fill="#c0c0c0"/>
<rect x="544" y="628" width="1" height="4" fill="#c0c0c0"/>
<rect x="548" y="628" width="1" height="3" fill="#c0c0c0"/>
<rect x="552" y="628" width="1" height="4" fill="#c0c0c0"/>
<rect x="556" y="628" width="1" height="4" fill="#c0c0c0"/>
<rect x="560" y="628" width="1" height="4" fill="#c0c0c0"/>
<rect x="564" y="628" width="1" height="7" fill="#c0c0c0"/>
<rect x="568" y="628" width="1" height="6" fill="#c0c0c0"/>
<rect x="572" y="628" width="1" height="6" fill="#c0c0c0"/>
<rect x="576" y="628" width="1" height="4" fill="#c0c0c0"/>
<rect x="580" y="628" width="1" height="2" fill="#c0c0c0"/>
<rect x="584" y="626" width="1" height="3" fill="#c0c0c0"/>
<rect x="588" y="625" width="1" height="4" fill="#c0c0c0"/>
<rect x="592" y="624" width="1" height="5" fill="#c0c0c0"/>
<rect x="596" y="623" width="1" height="6" fill="#c0c0c0"/>
<rect x="600" y="623" width="1" height="6" fill="#c0c0c0"/>
<rect x="604" y="622" width="1" height="7" fill="#c0c0c0"/>
<rect x="608" y="622" width="1" height="7" fill="#c0c0c0"/>
<rect x="612" y="618" width="1" height="11" fill="#c0c0c0"/>
<rect x="616" y="614" width="1" height="15" fill="#c0c0c0"/>
<rect x="620" y="611" width="1" height="18" fill="#c0c0c0"/>
<rect x="624" y="606" width="1" height="23" fill="#c0c0c0"/>
<rect x="628" y="601" width="1" height="28" fill="#c0c0c0"/>
<rect x="632" y="592" width="1" height="37" fill="#c0c0c0"/>
<rect x="636" y="587" width="1" height="42" fill="#c0c0c0"/>
<rect x="640" y="583" width="1" height="46" fill="#c0c0c0"/>
<rect x="644" y="578" width="1" height="51" fill="#c0c0c0"/>
<rect x="648" y="574" width="1" height="55" fill="#c0c0c0"/>
<rect x="652" y="572" width="1" height="57" fill="#c0c0c0"/>
<rect x="656" y="572" width="1" height="57" fill="#c0c0c0"/>
<rect x="660" y="572" width="1" height="57" fill="#c0c0c0"/>
<rect x="664" y="573" width="1" height="56" fill="#c0c0c0"/>
<rect x="668" y="576" width="1" height="53" fill="#c0c0c0"/>
<rect x="672" y="579" width="1" height="50" fill="#c0c0c0"/>
<rect x="676" y="581" width="1" height="48" fill="#c0c0c0"/>
<rect x="680" y="582" width="1" height="47" fill="#c0c0c0"/>
<rect x="684" y="583" width="1" height="46" fill="#c0c0c0"/>
<rect x="688" y="585" width="1" height="44" fill="#c0c0c0"/>
<rect x="692" y="588" width="1" height="41" fill="#c0c0c0"/>
<rect x="696" y="590" width="1" height="39" fill="#c0c0c0"/>
<rect x="700" y="592" width="1" height="37" fill="#c0c0c0"/>
<rect x="704" y="594" width="1" height="35" fill="#c0c0c0"/>
<rect x="708" y="594" width="1" height="35" fill="#c0c0c0"/>
<rect x="712" y="595" width="1" height="34" fill="#c0c0c0"/>
<rect x="716" y="598" width="1" height="31" fill="#c0c0c0"/>
<rect x="720" y="600" width="1" height="29" fill="#c0c0c0"/>
<rect x="724" y="602" width="1" height="27" fill="#c0c0c0"/>
<rect x="728" y="603" width="1" height="26" fill="#c0c0c0"/>
<rect x="732" y="604" width="1" height="25" fill="#c0c0c0"/>
<rect x="736" y="609" width="1" height="20" fill="#c0c0c0"/>
<rect x="740" y="613" width="1" height="16" fill="#c0c0c0"/>
<rect x="744" y="619" width="1" height="10" fill="#c0c0c0"/>
<rect x="748" y="623" width="1" height="6" fill="#c0c0c0"/>
<rect x="752" y="625" width="1" height="4" fill="#c0c0c0"/>
<rect x="756" y="626" width="1" height="3" fill="#c0c0c0"/>
<rect x="760" y="627" width="1" height="2" fill="#c0c0c0"/>
<rect x="764" y="628" width="1" height="2" fill="#c0c0c0"/>
<rect x="768" y="628" width="1" height="4" fill="#c0c0c0"/>
<rect x="772" y="628" width="1" height="6" fill="#c0c0c0"/>
<rect x="776" y="628" width="1" height="6" fill="#c0c0c0"/>
<rect x="780" y="628" width="1" height="5" fill="#c0c0c0"/>
<rect x="784" y="628" width="1" height="6" fill="#c0c0c0"/>
<rect x="788" y="628" width="1" height="4" fill="#c0c0c0"/>
<rect x="792" y="628" width="1" height="4" fill="#c0c0c0"/>
<rect x="796" y="628" width="1" height="3" fill="#c0c0c0"/>
<rect x="800" y="628" width="1" height="4" fill="#c0c0c0"/>
<rect x="804" y="628" width="1" height="4" fill="#c0c0c0"/>
<rect x="808" y="628" width="1" height="4" fill="#c0c0c0"/>
<rect x="812" y="628" width="1" height="4" fill="#c0c0c0"/>
<rect x="816" y="628" width="1" height="4" fill="#c0c0c0"/>
<rect x="820" y="628" width="1" height="4" fill="#c0c0c0"/>
<rect x="824" y="628" width="1" height="4" fill="#c0c0c0"/>
<rect x="828" y="628" width="1" height="4" fill="#c0c0c0"/>
<rect x="832" y="628" width="1" height="3" fill="#c0c0c0"/>
<rect x="836" y="628" width="1" height="3" fill="#c0c0c0"/>
<rect x="840" y="628" width="1" height="3" fill="#c0c0c0"/>
<rect x="844" y="628" width="1" height="4" fill="#c0c0c0"/>
<rect x="848" y="628" width="1" height="3" fill="#c0c0c0"/>
<rect x="852" y="628" width="1" height="2" fill="#c0c0c0"/>
<rect x="856" y="628" width="1" height="1" fill="#c0c0c0"/>
<rect x="860" y="626" width="1" height="3" fill="#c0c0c0"/>
<rect x="864" y="619" width="1" height="10" fill="#c0c0c0"/>
<rect x="868" y="614" width="1" height="15" fill="#c0c0c0"/>
<rect x="872" y="598" width="1" height="31" fill="#c0c0c0"/>
<rect x="876" y="591" width="1" height="38" fill="#c0c0c0"/>
<rect x="880" y="584" width="1" height="45" fill="#c0c0c0"/>
<rect x="884" y="579" width="1" height="50" fill="#c0c0c0"/>
<rect x="888" y="575" width="1" height="54" fill="#c0c0c0"/>
<rect x="892" y="572" width="1" height="57" fill="#c0c0c0"/>
<rect x="896" y="577" width="1" height="52" fill="#c0c0c0"/>
<rect x="900" y="579" width="1" height="50" fill="#c0c0c0"/>
<rect x="904" y="581" width="1" height="48" fill="#c0c0c0"/>
<rect x="908" y="583" width="1" height="46" fill="#c0c0c0"/>
<rect x="912" y="583" width="1" height="46" fill="#c0c0c0"/>
<rect x="916" y="584" width="1" height="45" fill="#c0c0c0"/>
<rect x="920" y="586" width="1" height="43" fill="#c0c0c0"/>
<rect x="924" y="585" width="1" height="44" fill="#c0c0c0"/>
<rect x="928" y="582" width="1" height="47" fill="#c0c0c0"/>
<rect x="932" y="577" width="1" height="52" fill="#c0c0c0"/>
<rect x="936" y="574" width="1" height="55" fill="#c0c0c0"/>
<rect x="940" y="572" width="1" height="57" fill="#c0c0c0"/>
<rect x="944" y="574" width="1" height="55" fill="#c0c0c0"/>
<rect x="948" y="573" width="1" height="56" fill="#c0c0c0"/>
<rect x="952" y="572" width="1" height="57" fill="#c0c0c0"/>
<rect x="956" y="572" width="1" height="57" fill="#c0c0c0"/>
<rect x="960" y="576" width="1" height="53" fill="#c0c0c0"/>
<rect x="964" y="580" width="1" height="49" fill="#c0c0c0"/>
<rect x="968" y="586" width="1" height="43" fill="#c0c0c0"/>
<rect x="972" y="590" width="1" height="39" fill="#c0c0c0"/>
<rect x="976" y="595" width="1" height="34" fill="#c0c0c0"/>
<rect x="980" y="600" width="1" height="29" fill="#c0c0c0"/>
<rect x="984" y="607" width="1" height="22" fill="#c0c0c0"/>
<rect x="988" y="614" width="1" height="15" fill="#c0c0c0"/>
<rect x="992" y="618" width="1" height="11" fill="#c0c0c0"/>
<rect x="996" y="620" width="1" height="9" fill="#c0c0c0"/>
<rect x="1000" y="621" width="1" height="8" fill="#c0c0c0"/>
<rect x="1004" y="621" width="1" height="8" fill="#c0c0c0"/>
<rect x="1008" y="620" width="1" height="9" fill="#c0c0c0"/>
<rect x="1012" y="619" width="1" height="10" fill="#c0c0c0"/>
<rect x="1016" y="620" width="1" height="9" fill="#c0c0c0"/>
<rect x="1020" y="618" width="1" height="11" fill="#c0c0c0"/>
<rect x="1024" y="617" width="1" height="12" fill="#c0c0c0"/>
<rect x="1028" y="615" width="1" height="14" fill="#c0c0c0"/>
<rect x="1032" y="613" width="1" height="16" fill="#c0c0c0"/>
<rect x="1036" y="612" width="1" height="17" fill="#c0c0c0"/>
<rect x="1040" y="612" width="1" height="17" fill="#c0c0c0"/>
<rect x="1044" y="613" width="1" height="16" fill="#c0c0c0"/>
<rect x="1048" y="615" width="1" height="14" fill="#c0c0c0"/>
<rect x="1052" y="615" width="1" height="14" fill="#c0c0c0"/>
<rect x="1056" y="613" width="1" height="16" fill="#c0c0c0"/>
<rect x="1060" y="612" width="1" height="17" fill="#c0c0c0"/>
<rect x="1064" y="616" width="1" height="13" fill="#c0c0c0"/>
<rect x="1068" y="621" width="1" height="8" fill="#c0c0c0"/>
<rect x="1072" y="626" width="1" height="3" fill="#c0c0c0"/>
<rect x="1076" y="628" width="1" height="1" fill="#c0c0c0"/>
<rect x="1080" y="628" width="1" height="1" fill="#c0c0c0"/>
<rect x="1084" y="628" width="1" height="4" fill="#c0c0c0"/>
<rect x="1088" y="628" width="1" height="6" fill="#c0c0c0"/>
<rect x="1092" y="628" width="1" height="8" fill="#c0c0c0"/>
<rect x="1096" y="628" width="1" height="9" fill="#c0c0c0"/>
<rect x="1100" y="628" width="1" height="10" fill="#c0c0c0"/>
<rect x="1104" y="628" width="1" height="11" fill="#c0c0c0"/>
<rect x="1108" y="628" width="1" height="13" fill="#c0c0c0"/>
<rect x="1112" y="628" width="1" height="13" fill="#c0c0c0"/>
<rect x="1116" y="628" width="1" height="13" fill="#c0c0c0"/>
<rect x="1120" y="628" width="1" height="14" fill="#c0c0c0"/>
<rect x="1124" y="628" width="1" height="15" fill="#c0c0c0"/>
<rect x="1128" y="628" width="1" height="16" fill="#c0c0c0"/>
<polyline fill="none" stroke="#ff0000" stroke-width="1" stroke-dasharray="3,3" shape-rendering="crispEdges" points="4.5,616.6 8.5,616.2 12.5,615.9 16.5,615.3 20.5,614.7 24.5,613.9 28.5,613.5 32.5,612.9 36.5,612.4 40.5,612.1 44.5,611.7 48.5,611.1 52.5,610.8 56.5,610.4 60.5,610.2 64.5,609.7 68.5,609.2 72.5,608.8 76.5,608.2 80.5,607.5 84.5,606.9 88.5,606.8 92.5,607.4 96.5,608.4 100.5,609.7 104.5,611.1 108.5,612.6 112.5,614.2 116.5,615.6 120.5,617.2 124.5,618.4 128.5,619.1 132.5,619.8 136.5,620.2 140.5,620.5 144.5,620.8 148.5,621.4 152.5,622.0 156.5,622.6 160.5,623.0 164.5,623.3 168.5,623.4 172.5,623.4 176.5,624.1 180.5,625.3 184.5,626.9 188.5,628.7 192.5,630.7 196.5,632.6 200.5,634.4 204.5,636.4 208.5,638.4 212.5,639.7 216.5,640.1 220.5,640.2 224.5,639.9 228.5,639.4 232.5,638.9 236.5,638.3 240.5,637.5 244.5,636.7 248.5,636.2 252.5,635.8 256.5,635.6 260.5,635.7 264.5,635.7 268.5,636.0 272.5,636.5 276.5,637.2 280.5,638.0 284.5,639.1 288.5,640.6 292.5,642.7 296.5,645.0 300.5,647.7 304.5,650.7 308.5,653.5 312.5,655.8 316.5,657.7 320.5,658.9 324.5,659.4 328.5,659.1 332.5,658.6 336.5,657.9 340.5,657.1 344.5,656.8 348.5,657.1 352.5,657.4 356.5,657.6 360.5,657.7 364.5,657.7 368.5,657.0 372.5,655.9 376.5,654.2 380.5,652.1 384.5,649.4 388.5,646.9 392.5,644.7 396.5,642.7 400.5,641.3 404.5,640.7 408.5,640.6 412.5,641.2 416.5,642.4 420.5,644.0 424.5,646.0 428.5,648.0 432.5,649.9 436.5,651.5 440.5,652.5 444.5,653.1 448.5,653.0 452.5,652.2 456.5,651.0 460.5,649.4 464.5,647.9 468.5,646.4 472.5,645.0 476.5,643.5 480.5,642.2 484.5,641.4 488.5,640.9 492.5,640.3 496.5,639.7 500.5,638.9 504.5,638.1 508.5,637.1 512.5,636.3 516.5,635.5 520.5,634.4 524.5,633.4 528.5,632.7 532.5,632.1 536.5,631.7 540.5,631.5 544.5,631.4 548.5,631.3 552.5,631.2 556.5,631.4 560.5,631.4 564.5,631.7 568.5,632.0 572.5,632.1 576.5,632.1 580.5,631.9 584.5,631.5 588.5,630.8 592.5,630.0 596.5,629.1 600.5,627.9 604.5,626.6 608.5,625.4 612.5,624.0 616.5,622.3 620.5,620.6 624.5,618.5 628.5,615.9 632.5,612.5 636.5,608.5 640.5,604.1 644.5,599.3 648.5,594.4 652.5,589.8 656.5,585.5 660.5,581.7 664.5,578.7 668.5,576.8 672.5,575.9 676.5,575.7 680.5,576.2 684.5,577.2 688.5,578.6 692.5,580.3 696.5,582.4 700.5,584.5 704.5,586.5 708.5,588.2 712.5,589.9 716.5,591.6 720.5,593.4 724.5,595.3 728.5,597.0 732.5,598.5 736.5,600.4 740.5,602.5 744.5,605.2 748.5,608.2 752.5,611.3 756.5,614.2 760.5,617.1 764.5,620.0 768.5,623.0 772.5,625.7 776.5,627.9 780.5,629.4 784.5,630.5 788.5,631.2 792.5,631.6 796.5,631.9 800.5,632.0 804.5,632.0 808.5,631.8 812.5,631.7 816.5,631.5 820.5,631.3 824.5,631.4 828.5,631.4 832.5,631.5 836.5,631.4 840.5,631.4 844.5,631.3 848.5,631.2 852.5,631.0 856.5,630.7 860.5,630.1 864.5,628.8 868.5,627.0 872.5,623.4 876.5,619.0 880.5,613.9 884.5,608.2 888.5,602.2 892.5,595.9 896.5,590.5 900.5,585.9 904.5,582.3 908.5,580.7 912.5,579.8 916.5,579.8 920.5,580.5 924.5,581.7 928.5,582.8 932.5,582.8 936.5,582.3 940.5,581.4 944.5,580.3 948.5,579.2 952.5,577.8 956.5,576.3 960.5,575.3 964.5,575.0 968.5,576.0 972.5,577.8 976.5,580.3 980.5,583.2 984.5,587.0 988.5,591.7 992.5,596.8 996.5,601.7 1000.5,606.3 1004.5,610.2 1008.5,613.4 1012.5,616.1 1016.5,618.3 1020.5,619.5 1024.5,619.8 1028.5,619.5 1032.5,618.7 1036.5,617.7 1040.5,616.7 1044.5,615.9 1048.5,615.5 1052.5,615.0 1056.5,614.4 1060.5,613.9 1064.5,614.0 1068.5,614.8 1072.5,616.3 1076.5,618.1 1080.5,619.9 1084.5,621.6 1088.5,623.6 1092.5,626.0 1096.5,628.6 1100.5,631.0 1104.5,632.8 1108.5,634.4 1112.5,635.7 1116.5,637.0 1120.5,638.2 1124.5,639.2 1128.5,640.1"/>
</g>
<rect x="1420" y="673" width="2" height="1" fill="#000"/>
<rect x="1420" y="800" width="2" height="1" fill="#000"/>
<text x="1423" y="682" font-size="9.6" fill="#000" stroke="#000" textLength="14.5" lengthAdjust="spacingAndGlyphs">100</text>
<text x="1422.5" y="715" font-size="9.6" fill="#000" stroke="#000" textLength="9.5" lengthAdjust="spacingAndGlyphs">70</text>
<text x="1422.5" y="766" font-size="9.6" fill="#000" stroke="#000" textLength="9.5" lengthAdjust="spacingAndGlyphs">30</text>
<text x="1423" y="798" font-size="9.6" fill="#000" stroke="#000" textLength="5" lengthAdjust="spacingAndGlyphs">0</text>
<text x="8" y="685" font-size="9.5" fill="#000" stroke="#000" textLength="68" lengthAdjust="spacingAndGlyphs">RSI(14) 40.6655</text>
<g clip-path="url(#crsi)">
<line x1="4" y1="711.5" x2="1419" y2="711.5" stroke="#c0c0c0" stroke-width="1" stroke-dasharray="3,3"/>
<line x1="4" y1="762.5" x2="1419" y2="762.5" stroke="#c0c0c0" stroke-width="1" stroke-dasharray="3,3"/>
<polyline fill="none" stroke="#1e90ff" stroke-width="1" shape-rendering="crispEdges" points="4.5,722.8 8.5,726.2 12.5,724.3 16.5,717.1 20.5,722.7 24.5,717.5 28.5,736.4 32.5,725.5 36.5,726.6 40.5,730.1 44.5,725.4 48.5,721.3 52.5,723.9 56.5,722.9 60.5,723.7 64.5,722.0 68.5,720.5 72.5,721.7 76.5,715.2 80.5,716.4 84.5,714.7 88.5,737.9 92.5,746.4 96.5,739.1 100.5,738.3 104.5,737.3 108.5,732.1 112.5,729.6 116.5,724.3 120.5,732.6 124.5,733.0 128.5,737.7 132.5,740.1 136.5,735.0 140.5,732.3 144.5,737.9 148.5,737.6 152.5,731.1 156.5,731.5 160.5,729.2 164.5,734.4 168.5,736.7 172.5,731.0 176.5,754.4 180.5,758.3 184.5,753.5 188.5,748.7 192.5,747.3 196.5,737.4 200.5,743.6 204.5,748.9 208.5,744.8 212.5,738.9 216.5,740.7 220.5,742.6 224.5,738.3 228.5,741.5 232.5,733.0 236.5,738.1 240.5,740.3 244.5,740.6 248.5,746.0 252.5,743.3 256.5,747.7 260.5,747.9 264.5,741.1 268.5,741.9 272.5,747.1 276.5,752.5 280.5,749.6 284.5,760.0 288.5,763.8 292.5,768.3 296.5,768.6 300.5,763.6 304.5,765.5 308.5,758.3 312.5,747.2 316.5,747.6 320.5,743.8 324.5,749.6 328.5,746.9 332.5,757.3 336.5,756.4 340.5,758.1 344.5,765.6 348.5,764.5 352.5,747.7 356.5,740.7 360.5,745.5 364.5,741.0 368.5,737.8 372.5,738.8 376.5,734.4 380.5,741.9 384.5,737.8 388.5,738.9 392.5,741.8 396.5,740.9 400.5,749.5 404.5,755.1 408.5,751.3 412.5,756.0 416.5,759.3 420.5,759.4 424.5,760.6 428.5,753.5 432.5,745.7 436.5,748.4 440.5,748.6 444.5,745.0 448.5,738.8 452.5,739.0 456.5,739.7 460.5,746.6 464.5,748.2 468.5,740.3 472.5,743.8 476.5,740.0 480.5,742.0 484.5,752.1 488.5,742.2 492.5,736.4 496.5,740.4 500.5,737.8 504.5,732.7 508.5,732.7 512.5,739.8 516.5,738.2 520.5,736.6 524.5,741.3 528.5,739.9 532.5,742.6 536.5,738.3 540.5,741.0 544.5,738.4 548.5,734.3 552.5,742.6 556.5,743.4 560.5,739.1 564.5,752.0 568.5,740.2 572.5,737.6 576.5,732.7 580.5,730.0 584.5,726.2 588.5,728.8 592.5,729.7 596.5,730.2 600.5,733.5 604.5,727.2 608.5,731.1 612.5,716.5 616.5,713.7 620.5,712.0 624.5,705.3 628.5,703.6 632.5,695.3 636.5,700.8 640.5,700.6 644.5,697.5 648.5,696.3 652.5,700.7 656.5,704.1 660.5,702.9 664.5,706.9 668.5,712.8 672.5,716.1 676.5,713.1 680.5,711.3 684.5,709.9 688.5,712.2 692.5,719.7 696.5,718.0 700.5,716.8 704.5,716.8 708.5,712.1 712.5,712.1 716.5,723.2 720.5,722.3 724.5,720.8 728.5,719.9 732.5,721.1 736.5,740.8 740.5,742.0 744.5,753.0 748.5,750.5 752.5,745.4 756.5,740.6 760.5,741.5 764.5,746.5 768.5,747.3 772.5,751.5 776.5,739.0 780.5,739.6 784.5,741.8 788.5,733.4 792.5,736.5 796.5,734.4 800.5,743.6 804.5,741.6 808.5,739.2 812.5,742.5 816.5,738.7 820.5,740.6 824.5,742.3 828.5,737.7 832.5,737.2 836.5,736.7 840.5,742.2 844.5,743.7 848.5,737.1 852.5,731.0 856.5,732.9 860.5,722.4 864.5,704.8 868.5,703.8 872.5,688.5 876.5,712.9 880.5,709.3 884.5,709.9 888.5,708.5 892.5,708.3 896.5,728.5 900.5,723.8 904.5,724.5 908.5,724.7 912.5,720.4 916.5,721.7 920.5,722.2 924.5,718.3 928.5,711.8 932.5,708.1 936.5,708.7 940.5,708.3 944.5,716.7 948.5,713.4 952.5,709.8 956.5,715.2 960.5,723.2 964.5,725.1 968.5,733.7 972.5,730.7 976.5,732.9 980.5,737.4 984.5,743.8 988.5,747.2 992.5,741.9 996.5,737.5 1000.5,736.5 1004.5,732.8 1008.5,729.7 1012.5,731.9 1016.5,733.2 1020.5,727.8 1024.5,728.4 1028.5,723.0 1032.5,724.5 1036.5,723.4 1040.5,724.3 1044.5,730.8 1048.5,737.6 1052.5,729.5 1056.5,723.1 1060.5,724.8 1064.5,740.5 1068.5,747.2 1072.5,748.0 1076.5,743.3 1080.5,738.7 1084.5,744.2 1088.5,745.8 1092.5,746.2 1096.5,744.9 1100.5,747.9 1104.5,744.2 1108.5,750.1 1112.5,745.5 1116.5,745.1 1120.5,750.5 1124.5,750.3 1128.5,748.3"/>
</g>
<rect x="4" y="802" width="1" height="3" fill="#000"/>
<text x="3" y="814" font-size="9.4" fill="#000" stroke="#000">3 Oct 2018</text>
<rect x="68" y="802" width="1" height="3" fill="#000"/>
<text x="67" y="814" font-size="9.4" fill="#000" stroke="#000">25 Oct 2018</text>
<rect x="132" y="802" width="1" height="3" fill="#000"/>
<text x="131" y="814" font-size="9.4" fill="#000" stroke="#000">16 Nov 2018</text>
<rect x="196" y="802" width="1" height="3" fill="#000"/>
<text x="195" y="814" font-size="9.4" fill="#000" stroke="#000">10 Dec 2018</text>
<rect x="260" y="802" width="1" height="3" fill="#000"/>
<text x="259" y="814" font-size="9.4" fill="#000" stroke="#000">1 Jan 2019</text>
<rect x="324" y="802" width="1" height="3" fill="#000"/>
<text x="323" y="814" font-size="9.4" fill="#000" stroke="#000">23 Jan 2019</text>
<rect x="388" y="802" width="1" height="3" fill="#000"/>
<text x="387" y="814" font-size="9.4" fill="#000" stroke="#000">14 Feb 2019</text>
<rect x="452" y="802" width="1" height="3" fill="#000"/>
<text x="451" y="814" font-size="9.4" fill="#000" stroke="#000">8 Mar 2019</text>
<rect x="516" y="802" width="1" height="3" fill="#000"/>
<text x="515" y="814" font-size="9.4" fill="#000" stroke="#000">1 Apr 2019</text>
<rect x="580" y="802" width="1" height="3" fill="#000"/>
<text x="579" y="814" font-size="9.4" fill="#000" stroke="#000">24 Apr 2019</text>
<rect x="644" y="802" width="1" height="3" fill="#000"/>
<text x="643" y="814" font-size="9.4" fill="#000" stroke="#000">16 May 2019</text>
<rect x="708" y="802" width="1" height="3" fill="#000"/>
<text x="707" y="814" font-size="9.4" fill="#000" stroke="#000">7 Jun 2019</text>
<rect x="772" y="802" width="1" height="3" fill="#000"/>
<text x="771" y="814" font-size="9.4" fill="#000" stroke="#000">1 Jul 2019</text>
<rect x="836" y="802" width="1" height="3" fill="#000"/>
<text x="835" y="814" font-size="9.4" fill="#000" stroke="#000">23 Jul 2019</text>
<rect x="900" y="802" width="1" height="3" fill="#000"/>
<text x="899" y="814" font-size="9.4" fill="#000" stroke="#000">14 Aug 2019</text>
<rect x="964" y="802" width="1" height="3" fill="#000"/>
<text x="963" y="814" font-size="9.4" fill="#000" stroke="#000">5 Sep 2019</text>
<rect x="1028" y="802" width="1" height="3" fill="#000"/>
<text x="1027" y="814" font-size="9.4" fill="#000" stroke="#000">27 Sep 2019</text>
<rect x="1092" y="802" width="1" height="3" fill="#000"/>
<text x="1091" y="814" font-size="9.4" fill="#000" stroke="#000">21 Oct 2019</text>
<rect x="0" y="822" width="1461" height="1" fill="#e3e3e3"/>
<rect x="0" y="824" width="1461" height="1" fill="#000"/>
<rect x="0" y="825" width="1461" height="1" fill="#fafafa"/>
<rect x="0" y="826" width="1461" height="18" fill="#f0f0f0"/>
<rect x="0" y="844" width="1461" height="1" fill="#ffffff"/>
<rect x="0" y="845" width="1461" height="3" fill="#f0f0f0"/>
<rect x="0" y="825" width="1" height="18" fill="#6e6e6e"/>
<rect x="113" y="828" width="1" height="13" fill="#6d6d6d"/>
<rect x="222" y="828" width="1" height="13" fill="#6d6d6d"/>
<rect x="329" y="828" width="1" height="13" fill="#6d6d6d"/>
<rect x="669" y="828" width="1" height="13" fill="#6d6d6d"/>
<rect x="794" y="828" width="1" height="13" fill="#6d6d6d"/>
<rect x="889" y="828" width="1" height="13" fill="#6d6d6d"/>
<rect x="969" y="828" width="1" height="13" fill="#6d6d6d"/>
<rect x="1073" y="828" width="1" height="13" fill="#6d6d6d"/>
<rect x="1165" y="828" width="1" height="13" fill="#6d6d6d"/>
<rect x="1245" y="828" width="1" height="13" fill="#6d6d6d"/>
<rect x="437" y="824" width="112" height="19" fill="#000"/>
<rect x="438" y="825" width="110" height="17" fill="#fff"/>
<text x="16.6" y="838.5" font-size="12" fill="#6d6d6d" stroke="#6d6d6d" textLength="84.4" lengthAdjust="spacingAndGlyphs">EURUSD-,Daily</text>
<text x="123.5" y="838.5" font-size="12" fill="#6d6d6d" stroke="#6d6d6d" textLength="86.5" lengthAdjust="spacingAndGlyphs">AUDUSD-,Daily</text>
<text x="233.4" y="838.5" font-size="12" fill="#6d6d6d" stroke="#6d6d6d" textLength="83.6" lengthAdjust="spacingAndGlyphs">USDCHF-,Daily</text>
<text x="340" y="838.5" font-size="12" fill="#6d6d6d" stroke="#6d6d6d" textLength="86" lengthAdjust="spacingAndGlyphs">USDCAD-,Daily</text>
<text x="449.6" y="838.5" font-size="12" fill="#000" stroke="#000" textLength="87" lengthAdjust="spacingAndGlyphs">USDCNH-,Daily</text>
<text x="560.5" y="838.5" font-size="12" fill="#6d6d6d" stroke="#6d6d6d" textLength="96.4" lengthAdjust="spacingAndGlyphs">EURCHF-,Weekly</text>
<text x="681" y="838.5" font-size="12" fill="#6d6d6d" stroke="#6d6d6d" textLength="100" lengthAdjust="spacingAndGlyphs">XAUUSD-,Weekly</text>
<text x="804.5" y="838.5" font-size="12" fill="#6d6d6d" stroke="#6d6d6d" textLength="72.2" lengthAdjust="spacingAndGlyphs">GBPUSD-,H1</text>
<text x="900.5" y="838.5" font-size="12" fill="#6d6d6d" stroke="#6d6d6d" textLength="56.1" lengthAdjust="spacingAndGlyphs">UKOil-,H1</text>
<text x="979.6" y="838.5" font-size="12" fill="#6d6d6d" stroke="#6d6d6d" textLength="82.2" lengthAdjust="spacingAndGlyphs">USDX-,Weekly</text>
<text x="1083.5" y="838.5" font-size="12" fill="#6d6d6d" stroke="#6d6d6d" textLength="70.2" lengthAdjust="spacingAndGlyphs">EURCHF-,H1</text>
<text x="1177.5" y="838.5" font-size="12" fill="#6d6d6d" stroke="#6d6d6d" textLength="55.1" lengthAdjust="spacingAndGlyphs">USOil-,H1</text>
<polygon points="1438,830 1438,836 1435,833" fill="#909090"/>
<polygon points="1454,830 1454,836 1457,833" fill="#909090"/>
</svg>
</body></html>
